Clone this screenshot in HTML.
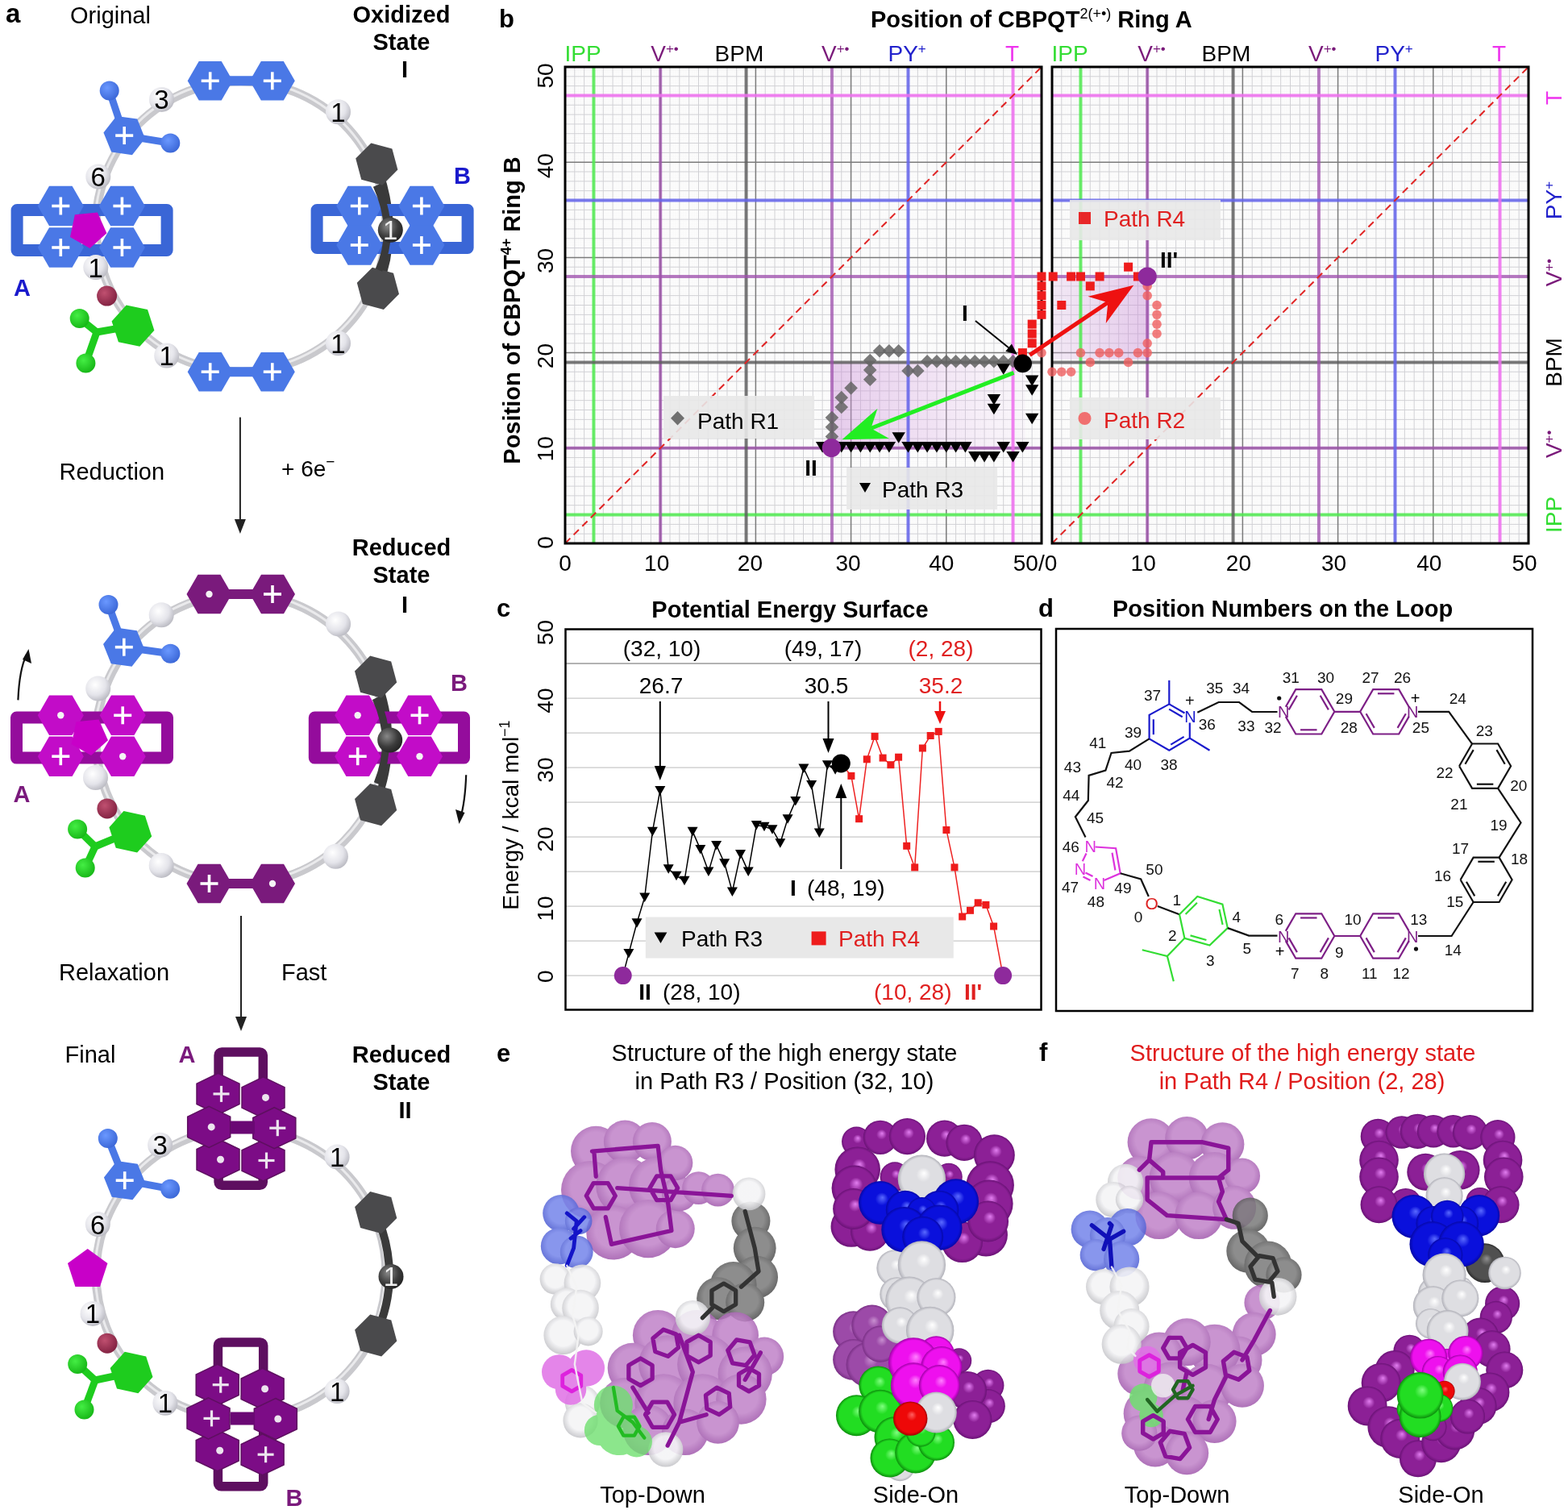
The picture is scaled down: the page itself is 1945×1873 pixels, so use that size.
<!DOCTYPE html>
<html><head><meta charset="utf-8"><title>figure</title>
<style>html,body{margin:0;padding:0;background:#fff;} svg{display:block;} text{font-family:"Liberation Sans", Arial, Helvetica, sans-serif;}</style>
</head><body>
<svg width="1945" height="1873" viewBox="0 0 1945 1873">
<defs>
<linearGradient id="shadeL" x1="0" y1="0" x2="1" y2="0"><stop offset="0" stop-color="#c88ad6" stop-opacity="0.42"/><stop offset="0.5" stop-color="#d8a6e2" stop-opacity="0.3"/><stop offset="1" stop-color="#ecd0f2" stop-opacity="0.12"/></linearGradient>
<linearGradient id="shadeR" x1="1" y1="0" x2="0" y2="0"><stop offset="0" stop-color="#c88ad6" stop-opacity="0.45"/><stop offset="1" stop-color="#dcb8e6" stop-opacity="0.28"/></linearGradient>
<radialGradient id="ballW" cx="0.38" cy="0.35" r="0.7"><stop offset="0" stop-color="#ffffff"/><stop offset="0.6" stop-color="#e4e4ea"/><stop offset="1" stop-color="#b8b8c0"/></radialGradient><radialGradient id="ballD" cx="0.38" cy="0.35" r="0.7"><stop offset="0" stop-color="#888"/><stop offset="0.6" stop-color="#3c3c3c"/><stop offset="1" stop-color="#222"/></radialGradient><radialGradient id="ballB" cx="0.38" cy="0.35" r="0.7"><stop offset="0" stop-color="#6a98ff"/><stop offset="1" stop-color="#3a66d6"/></radialGradient><radialGradient id="ballG" cx="0.38" cy="0.35" r="0.7"><stop offset="0" stop-color="#44ee44"/><stop offset="1" stop-color="#15b515"/></radialGradient><radialGradient id="ballR" cx="0.38" cy="0.35" r="0.7"><stop offset="0" stop-color="#c05070"/><stop offset="1" stop-color="#802040"/></radialGradient><radialGradient id="bP" cx="0.5" cy="0.45" r="0.55"><stop offset="0" stop-color="#c082c8"/><stop offset="0.6" stop-color="#c082c8"/><stop offset="1" stop-color="#a058ac"/></radialGradient><radialGradient id="bW" cx="0.5" cy="0.45" r="0.55"><stop offset="0" stop-color="#f4f4f6"/><stop offset="0.6" stop-color="#f4f4f6"/><stop offset="1" stop-color="#c4c4c8"/></radialGradient><radialGradient id="bD" cx="0.5" cy="0.45" r="0.55"><stop offset="0" stop-color="#7a7a7a"/><stop offset="0.6" stop-color="#7a7a7a"/><stop offset="1" stop-color="#4a4a4a"/></radialGradient><radialGradient id="bB" cx="0.5" cy="0.45" r="0.55"><stop offset="0" stop-color="#7484ea"/><stop offset="0.6" stop-color="#7484ea"/><stop offset="1" stop-color="#4a5ad0"/></radialGradient><radialGradient id="sP" cx="0.5" cy="0.5" fx="0.55" fy="0.38" r="0.5"><stop offset="0" stop-color="#e27ef0"/><stop offset="0.3" stop-color="#8c2096"/><stop offset="0.85" stop-color="#8c2096"/><stop offset="1" stop-color="#6a1276"/></radialGradient><radialGradient id="sPf" cx="0.5" cy="0.5" fx="0.55" fy="0.38" r="0.5"><stop offset="0" stop-color="#c890d0"/><stop offset="0.3" stop-color="#9c4aa8"/><stop offset="0.85" stop-color="#9c4aa8"/><stop offset="1" stop-color="#7a3086"/></radialGradient><radialGradient id="sB" cx="0.5" cy="0.5" fx="0.55" fy="0.38" r="0.5"><stop offset="0" stop-color="#5a6aff"/><stop offset="0.3" stop-color="#0a10dc"/><stop offset="0.85" stop-color="#0a10dc"/><stop offset="1" stop-color="#0608a8"/></radialGradient><radialGradient id="sW" cx="0.5" cy="0.5" fx="0.55" fy="0.38" r="0.5"><stop offset="0" stop-color="#ffffff"/><stop offset="0.3" stop-color="#dedee2"/><stop offset="0.85" stop-color="#dedee2"/><stop offset="1" stop-color="#b0b0b8"/></radialGradient><radialGradient id="sM" cx="0.5" cy="0.5" fx="0.55" fy="0.38" r="0.5"><stop offset="0" stop-color="#ff80ff"/><stop offset="0.3" stop-color="#ee10ee"/><stop offset="0.85" stop-color="#ee10ee"/><stop offset="1" stop-color="#a000a8"/></radialGradient><radialGradient id="sG" cx="0.5" cy="0.5" fx="0.55" fy="0.38" r="0.5"><stop offset="0" stop-color="#80ff80"/><stop offset="0.3" stop-color="#22dd22"/><stop offset="0.85" stop-color="#22dd22"/><stop offset="1" stop-color="#0c8c0c"/></radialGradient><radialGradient id="sR" cx="0.5" cy="0.5" fx="0.55" fy="0.38" r="0.5"><stop offset="0" stop-color="#ff6060"/><stop offset="0.3" stop-color="#ee0808"/><stop offset="0.85" stop-color="#ee0808"/><stop offset="1" stop-color="#a00000"/></radialGradient><radialGradient id="sD" cx="0.5" cy="0.5" fx="0.55" fy="0.38" r="0.5"><stop offset="0" stop-color="#909090"/><stop offset="0.3" stop-color="#505050"/><stop offset="0.85" stop-color="#505050"/><stop offset="1" stop-color="#2a2a2a"/></radialGradient>
</defs>
<rect width="1945" height="1873" fill="#fff"/>
<g id="panel-b">
<path d="M703.36 83.0V674.0 M701.0 671.64H1292.0 M705.73 83.0V674.0 M701.0 669.27H1292.0 M708.09 83.0V674.0 M701.0 666.91H1292.0 M710.46 83.0V674.0 M701.0 664.54H1292.0 M715.18 83.0V674.0 M701.0 659.82H1292.0 M717.55 83.0V674.0 M701.0 657.45H1292.0 M719.91 83.0V674.0 M701.0 655.09H1292.0 M722.28 83.0V674.0 M701.0 652.72H1292.0 M727.00 83.0V674.0 M701.0 648.00H1292.0 M729.37 83.0V674.0 M701.0 645.63H1292.0 M731.73 83.0V674.0 M701.0 643.27H1292.0 M734.10 83.0V674.0 M701.0 640.90H1292.0 M738.82 83.0V674.0 M701.0 636.18H1292.0 M741.19 83.0V674.0 M701.0 633.81H1292.0 M743.55 83.0V674.0 M701.0 631.45H1292.0 M745.92 83.0V674.0 M701.0 629.08H1292.0 M750.64 83.0V674.0 M701.0 624.36H1292.0 M753.01 83.0V674.0 M701.0 621.99H1292.0 M755.37 83.0V674.0 M701.0 619.63H1292.0 M757.74 83.0V674.0 M701.0 617.26H1292.0 M762.46 83.0V674.0 M701.0 612.54H1292.0 M764.83 83.0V674.0 M701.0 610.17H1292.0 M767.19 83.0V674.0 M701.0 607.81H1292.0 M769.56 83.0V674.0 M701.0 605.44H1292.0 M774.28 83.0V674.0 M701.0 600.72H1292.0 M776.65 83.0V674.0 M701.0 598.35H1292.0 M779.01 83.0V674.0 M701.0 595.99H1292.0 M781.38 83.0V674.0 M701.0 593.62H1292.0 M786.10 83.0V674.0 M701.0 588.90H1292.0 M788.47 83.0V674.0 M701.0 586.53H1292.0 M790.83 83.0V674.0 M701.0 584.17H1292.0 M793.20 83.0V674.0 M701.0 581.80H1292.0 M797.92 83.0V674.0 M701.0 577.08H1292.0 M800.29 83.0V674.0 M701.0 574.71H1292.0 M802.65 83.0V674.0 M701.0 572.35H1292.0 M805.02 83.0V674.0 M701.0 569.98H1292.0 M809.74 83.0V674.0 M701.0 565.26H1292.0 M812.11 83.0V674.0 M701.0 562.89H1292.0 M814.47 83.0V674.0 M701.0 560.53H1292.0 M816.84 83.0V674.0 M701.0 558.16H1292.0 M821.56 83.0V674.0 M701.0 553.44H1292.0 M823.93 83.0V674.0 M701.0 551.07H1292.0 M826.29 83.0V674.0 M701.0 548.71H1292.0 M828.66 83.0V674.0 M701.0 546.34H1292.0 M833.38 83.0V674.0 M701.0 541.62H1292.0 M835.75 83.0V674.0 M701.0 539.25H1292.0 M838.11 83.0V674.0 M701.0 536.89H1292.0 M840.48 83.0V674.0 M701.0 534.52H1292.0 M845.20 83.0V674.0 M701.0 529.80H1292.0 M847.57 83.0V674.0 M701.0 527.43H1292.0 M849.93 83.0V674.0 M701.0 525.07H1292.0 M852.30 83.0V674.0 M701.0 522.70H1292.0 M857.02 83.0V674.0 M701.0 517.98H1292.0 M859.39 83.0V674.0 M701.0 515.61H1292.0 M861.75 83.0V674.0 M701.0 513.25H1292.0 M864.12 83.0V674.0 M701.0 510.88H1292.0 M868.84 83.0V674.0 M701.0 506.16H1292.0 M871.21 83.0V674.0 M701.0 503.79H1292.0 M873.57 83.0V674.0 M701.0 501.43H1292.0 M875.94 83.0V674.0 M701.0 499.06H1292.0 M880.66 83.0V674.0 M701.0 494.34H1292.0 M883.03 83.0V674.0 M701.0 491.97H1292.0 M885.39 83.0V674.0 M701.0 489.61H1292.0 M887.76 83.0V674.0 M701.0 487.24H1292.0 M892.48 83.0V674.0 M701.0 482.52H1292.0 M894.85 83.0V674.0 M701.0 480.15H1292.0 M897.21 83.0V674.0 M701.0 477.79H1292.0 M899.58 83.0V674.0 M701.0 475.42H1292.0 M904.30 83.0V674.0 M701.0 470.70H1292.0 M906.67 83.0V674.0 M701.0 468.33H1292.0 M909.03 83.0V674.0 M701.0 465.97H1292.0 M911.40 83.0V674.0 M701.0 463.60H1292.0 M916.12 83.0V674.0 M701.0 458.88H1292.0 M918.49 83.0V674.0 M701.0 456.51H1292.0 M920.85 83.0V674.0 M701.0 454.15H1292.0 M923.22 83.0V674.0 M701.0 451.78H1292.0 M927.94 83.0V674.0 M701.0 447.06H1292.0 M930.31 83.0V674.0 M701.0 444.69H1292.0 M932.67 83.0V674.0 M701.0 442.33H1292.0 M935.04 83.0V674.0 M701.0 439.96H1292.0 M939.76 83.0V674.0 M701.0 435.24H1292.0 M942.13 83.0V674.0 M701.0 432.87H1292.0 M944.49 83.0V674.0 M701.0 430.51H1292.0 M946.86 83.0V674.0 M701.0 428.14H1292.0 M951.58 83.0V674.0 M701.0 423.42H1292.0 M953.95 83.0V674.0 M701.0 421.05H1292.0 M956.31 83.0V674.0 M701.0 418.69H1292.0 M958.68 83.0V674.0 M701.0 416.32H1292.0 M963.40 83.0V674.0 M701.0 411.60H1292.0 M965.77 83.0V674.0 M701.0 409.23H1292.0 M968.13 83.0V674.0 M701.0 406.87H1292.0 M970.50 83.0V674.0 M701.0 404.50H1292.0 M975.22 83.0V674.0 M701.0 399.78H1292.0 M977.59 83.0V674.0 M701.0 397.41H1292.0 M979.95 83.0V674.0 M701.0 395.05H1292.0 M982.32 83.0V674.0 M701.0 392.68H1292.0 M987.04 83.0V674.0 M701.0 387.96H1292.0 M989.41 83.0V674.0 M701.0 385.59H1292.0 M991.77 83.0V674.0 M701.0 383.23H1292.0 M994.14 83.0V674.0 M701.0 380.86H1292.0 M998.86 83.0V674.0 M701.0 376.14H1292.0 M1001.23 83.0V674.0 M701.0 373.77H1292.0 M1003.59 83.0V674.0 M701.0 371.41H1292.0 M1005.96 83.0V674.0 M701.0 369.04H1292.0 M1010.68 83.0V674.0 M701.0 364.32H1292.0 M1013.05 83.0V674.0 M701.0 361.95H1292.0 M1015.41 83.0V674.0 M701.0 359.59H1292.0 M1017.78 83.0V674.0 M701.0 357.22H1292.0 M1022.50 83.0V674.0 M701.0 352.50H1292.0 M1024.87 83.0V674.0 M701.0 350.13H1292.0 M1027.23 83.0V674.0 M701.0 347.77H1292.0 M1029.60 83.0V674.0 M701.0 345.40H1292.0 M1034.32 83.0V674.0 M701.0 340.68H1292.0 M1036.69 83.0V674.0 M701.0 338.31H1292.0 M1039.05 83.0V674.0 M701.0 335.95H1292.0 M1041.42 83.0V674.0 M701.0 333.58H1292.0 M1046.14 83.0V674.0 M701.0 328.86H1292.0 M1048.51 83.0V674.0 M701.0 326.49H1292.0 M1050.87 83.0V674.0 M701.0 324.13H1292.0 M1053.24 83.0V674.0 M701.0 321.76H1292.0 M1057.96 83.0V674.0 M701.0 317.04H1292.0 M1060.33 83.0V674.0 M701.0 314.67H1292.0 M1062.69 83.0V674.0 M701.0 312.31H1292.0 M1065.06 83.0V674.0 M701.0 309.94H1292.0 M1069.78 83.0V674.0 M701.0 305.22H1292.0 M1072.15 83.0V674.0 M701.0 302.85H1292.0 M1074.51 83.0V674.0 M701.0 300.49H1292.0 M1076.88 83.0V674.0 M701.0 298.12H1292.0 M1081.60 83.0V674.0 M701.0 293.40H1292.0 M1083.97 83.0V674.0 M701.0 291.03H1292.0 M1086.33 83.0V674.0 M701.0 288.67H1292.0 M1088.70 83.0V674.0 M701.0 286.30H1292.0 M1093.42 83.0V674.0 M701.0 281.58H1292.0 M1095.79 83.0V674.0 M701.0 279.21H1292.0 M1098.15 83.0V674.0 M701.0 276.85H1292.0 M1100.52 83.0V674.0 M701.0 274.48H1292.0 M1105.24 83.0V674.0 M701.0 269.76H1292.0 M1107.61 83.0V674.0 M701.0 267.39H1292.0 M1109.97 83.0V674.0 M701.0 265.03H1292.0 M1112.34 83.0V674.0 M701.0 262.66H1292.0 M1117.06 83.0V674.0 M701.0 257.94H1292.0 M1119.43 83.0V674.0 M701.0 255.57H1292.0 M1121.79 83.0V674.0 M701.0 253.21H1292.0 M1124.16 83.0V674.0 M701.0 250.84H1292.0 M1128.88 83.0V674.0 M701.0 246.12H1292.0 M1131.25 83.0V674.0 M701.0 243.75H1292.0 M1133.61 83.0V674.0 M701.0 241.39H1292.0 M1135.98 83.0V674.0 M701.0 239.02H1292.0 M1140.70 83.0V674.0 M701.0 234.30H1292.0 M1143.07 83.0V674.0 M701.0 231.93H1292.0 M1145.43 83.0V674.0 M701.0 229.57H1292.0 M1147.80 83.0V674.0 M701.0 227.20H1292.0 M1152.52 83.0V674.0 M701.0 222.48H1292.0 M1154.89 83.0V674.0 M701.0 220.11H1292.0 M1157.25 83.0V674.0 M701.0 217.75H1292.0 M1159.62 83.0V674.0 M701.0 215.38H1292.0 M1164.34 83.0V674.0 M701.0 210.66H1292.0 M1166.71 83.0V674.0 M701.0 208.29H1292.0 M1169.07 83.0V674.0 M701.0 205.93H1292.0 M1171.44 83.0V674.0 M701.0 203.56H1292.0 M1176.16 83.0V674.0 M701.0 198.84H1292.0 M1178.53 83.0V674.0 M701.0 196.47H1292.0 M1180.89 83.0V674.0 M701.0 194.11H1292.0 M1183.26 83.0V674.0 M701.0 191.74H1292.0 M1187.98 83.0V674.0 M701.0 187.02H1292.0 M1190.35 83.0V674.0 M701.0 184.65H1292.0 M1192.71 83.0V674.0 M701.0 182.29H1292.0 M1195.08 83.0V674.0 M701.0 179.92H1292.0 M1199.80 83.0V674.0 M701.0 175.20H1292.0 M1202.17 83.0V674.0 M701.0 172.83H1292.0 M1204.53 83.0V674.0 M701.0 170.47H1292.0 M1206.90 83.0V674.0 M701.0 168.10H1292.0 M1211.62 83.0V674.0 M701.0 163.38H1292.0 M1213.99 83.0V674.0 M701.0 161.01H1292.0 M1216.35 83.0V674.0 M701.0 158.65H1292.0 M1218.72 83.0V674.0 M701.0 156.28H1292.0 M1223.44 83.0V674.0 M701.0 151.56H1292.0 M1225.81 83.0V674.0 M701.0 149.19H1292.0 M1228.17 83.0V674.0 M701.0 146.83H1292.0 M1230.54 83.0V674.0 M701.0 144.46H1292.0 M1235.26 83.0V674.0 M701.0 139.74H1292.0 M1237.63 83.0V674.0 M701.0 137.37H1292.0 M1239.99 83.0V674.0 M701.0 135.01H1292.0 M1242.36 83.0V674.0 M701.0 132.64H1292.0 M1247.08 83.0V674.0 M701.0 127.92H1292.0 M1249.45 83.0V674.0 M701.0 125.55H1292.0 M1251.81 83.0V674.0 M701.0 123.19H1292.0 M1254.18 83.0V674.0 M701.0 120.82H1292.0 M1258.90 83.0V674.0 M701.0 116.10H1292.0 M1261.27 83.0V674.0 M701.0 113.73H1292.0 M1263.63 83.0V674.0 M701.0 111.37H1292.0 M1266.00 83.0V674.0 M701.0 109.00H1292.0 M1270.72 83.0V674.0 M701.0 104.28H1292.0 M1273.09 83.0V674.0 M701.0 101.91H1292.0 M1275.45 83.0V674.0 M701.0 99.55H1292.0 M1277.82 83.0V674.0 M701.0 97.18H1292.0 M1282.54 83.0V674.0 M701.0 92.46H1292.0 M1284.91 83.0V674.0 M701.0 90.09H1292.0 M1287.27 83.0V674.0 M701.0 87.73H1292.0 M1289.64 83.0V674.0 M701.0 85.36H1292.0" stroke="#f8f8f8" stroke-width="0.8" fill="none"/>
<path d="M712.82 83.0V674.0 M701.0 662.18H1292.0 M724.64 83.0V674.0 M701.0 650.36H1292.0 M736.46 83.0V674.0 M701.0 638.54H1292.0 M748.28 83.0V674.0 M701.0 626.72H1292.0 M760.10 83.0V674.0 M701.0 614.90H1292.0 M771.92 83.0V674.0 M701.0 603.08H1292.0 M783.74 83.0V674.0 M701.0 591.26H1292.0 M795.56 83.0V674.0 M701.0 579.44H1292.0 M807.38 83.0V674.0 M701.0 567.62H1292.0 M831.02 83.0V674.0 M701.0 543.98H1292.0 M842.84 83.0V674.0 M701.0 532.16H1292.0 M854.66 83.0V674.0 M701.0 520.34H1292.0 M866.48 83.0V674.0 M701.0 508.52H1292.0 M878.30 83.0V674.0 M701.0 496.70H1292.0 M890.12 83.0V674.0 M701.0 484.88H1292.0 M901.94 83.0V674.0 M701.0 473.06H1292.0 M913.76 83.0V674.0 M701.0 461.24H1292.0 M925.58 83.0V674.0 M701.0 449.42H1292.0 M949.22 83.0V674.0 M701.0 425.78H1292.0 M961.04 83.0V674.0 M701.0 413.96H1292.0 M972.86 83.0V674.0 M701.0 402.14H1292.0 M984.68 83.0V674.0 M701.0 390.32H1292.0 M996.50 83.0V674.0 M701.0 378.50H1292.0 M1008.32 83.0V674.0 M701.0 366.68H1292.0 M1020.14 83.0V674.0 M701.0 354.86H1292.0 M1031.96 83.0V674.0 M701.0 343.04H1292.0 M1043.78 83.0V674.0 M701.0 331.22H1292.0 M1067.42 83.0V674.0 M701.0 307.58H1292.0 M1079.24 83.0V674.0 M701.0 295.76H1292.0 M1091.06 83.0V674.0 M701.0 283.94H1292.0 M1102.88 83.0V674.0 M701.0 272.12H1292.0 M1114.70 83.0V674.0 M701.0 260.30H1292.0 M1126.52 83.0V674.0 M701.0 248.48H1292.0 M1138.34 83.0V674.0 M701.0 236.66H1292.0 M1150.16 83.0V674.0 M701.0 224.84H1292.0 M1161.98 83.0V674.0 M701.0 213.02H1292.0 M1185.62 83.0V674.0 M701.0 189.38H1292.0 M1197.44 83.0V674.0 M701.0 177.56H1292.0 M1209.26 83.0V674.0 M701.0 165.74H1292.0 M1221.08 83.0V674.0 M701.0 153.92H1292.0 M1232.90 83.0V674.0 M701.0 142.10H1292.0 M1244.72 83.0V674.0 M701.0 130.28H1292.0 M1256.54 83.0V674.0 M701.0 118.46H1292.0 M1268.36 83.0V674.0 M701.0 106.64H1292.0 M1280.18 83.0V674.0 M701.0 94.82H1292.0" stroke="#cfcfd3" stroke-width="1" fill="none"/>
<path d="M819.20 83.0V674.0 M701.0 555.80H1292.0 M937.40 83.0V674.0 M701.0 437.60H1292.0 M1055.60 83.0V674.0 M701.0 319.40H1292.0 M1173.80 83.0V674.0 M701.0 201.20H1292.0" stroke="#7a7a7a" stroke-width="1.5" fill="none"/>
<rect x="1032.0" y="449.4" width="239.9" height="106.4" fill="url(#shadeL)"/>
<line x1="736.46" y1="83.00" x2="736.46" y2="674.00" stroke="rgba(80,235,80,0.85)" stroke-width="4" />
<line x1="701.00" y1="638.54" x2="1292.00" y2="638.54" stroke="rgba(80,235,80,0.85)" stroke-width="4" />
<line x1="819.20" y1="83.00" x2="819.20" y2="674.00" stroke="rgba(160,80,175,0.75)" stroke-width="4" />
<line x1="701.00" y1="555.80" x2="1292.00" y2="555.80" stroke="rgba(160,80,175,0.75)" stroke-width="4" />
<line x1="925.58" y1="83.00" x2="925.58" y2="674.00" stroke="rgba(90,90,90,0.8)" stroke-width="4" />
<line x1="701.00" y1="449.42" x2="1292.00" y2="449.42" stroke="rgba(90,90,90,0.8)" stroke-width="4" />
<line x1="1031.96" y1="83.00" x2="1031.96" y2="674.00" stroke="rgba(160,80,175,0.75)" stroke-width="4" />
<line x1="701.00" y1="343.04" x2="1292.00" y2="343.04" stroke="rgba(160,80,175,0.75)" stroke-width="4" />
<line x1="1126.52" y1="83.00" x2="1126.52" y2="674.00" stroke="rgba(100,100,235,0.85)" stroke-width="4" />
<line x1="701.00" y1="248.48" x2="1292.00" y2="248.48" stroke="rgba(100,100,235,0.85)" stroke-width="4" />
<line x1="1256.54" y1="83.00" x2="1256.54" y2="674.00" stroke="rgba(240,110,240,0.85)" stroke-width="4" />
<line x1="701.00" y1="118.46" x2="1292.00" y2="118.46" stroke="rgba(240,110,240,0.85)" stroke-width="4" />
<line x1="701.00" y1="674.00" x2="1292.00" y2="83.00" stroke="#e02424" stroke-width="2" stroke-dasharray="9 6"/>
<rect x="701.0" y="83.0" width="591.00" height="591.00" fill="none" stroke="#000" stroke-width="3"/>
<text x="700.5" y="76.0" font-size="28" text-anchor="start" fill="#33dd33" >IPP</text>
<text x="807.2" y="76.0" font-size="28" text-anchor="start" fill="#7a1a7a" >V<tspan font-size="17" dy="-10">+•</tspan></text>
<text x="886.6" y="76.0" font-size="28" text-anchor="start" fill="#000" >BPM</text>
<text x="1019.0" y="76.0" font-size="28" text-anchor="start" fill="#7a1a7a" >V<tspan font-size="17" dy="-10">+•</tspan></text>
<text x="1101.5" y="76.0" font-size="28" text-anchor="start" fill="#2222cc" >PY<tspan font-size="17" dy="-10">+</tspan></text>
<text x="1247.0" y="76.0" font-size="28" text-anchor="start" fill="#ee33ee" >T</text>
<path d="M1307.36 83.0V674.0 M1305.0 671.64H1896.0 M1309.73 83.0V674.0 M1305.0 669.27H1896.0 M1312.09 83.0V674.0 M1305.0 666.91H1896.0 M1314.46 83.0V674.0 M1305.0 664.54H1896.0 M1319.18 83.0V674.0 M1305.0 659.82H1896.0 M1321.55 83.0V674.0 M1305.0 657.45H1896.0 M1323.91 83.0V674.0 M1305.0 655.09H1896.0 M1326.28 83.0V674.0 M1305.0 652.72H1896.0 M1331.00 83.0V674.0 M1305.0 648.00H1896.0 M1333.37 83.0V674.0 M1305.0 645.63H1896.0 M1335.73 83.0V674.0 M1305.0 643.27H1896.0 M1338.10 83.0V674.0 M1305.0 640.90H1896.0 M1342.82 83.0V674.0 M1305.0 636.18H1896.0 M1345.19 83.0V674.0 M1305.0 633.81H1896.0 M1347.55 83.0V674.0 M1305.0 631.45H1896.0 M1349.92 83.0V674.0 M1305.0 629.08H1896.0 M1354.64 83.0V674.0 M1305.0 624.36H1896.0 M1357.01 83.0V674.0 M1305.0 621.99H1896.0 M1359.37 83.0V674.0 M1305.0 619.63H1896.0 M1361.74 83.0V674.0 M1305.0 617.26H1896.0 M1366.46 83.0V674.0 M1305.0 612.54H1896.0 M1368.83 83.0V674.0 M1305.0 610.17H1896.0 M1371.19 83.0V674.0 M1305.0 607.81H1896.0 M1373.56 83.0V674.0 M1305.0 605.44H1896.0 M1378.28 83.0V674.0 M1305.0 600.72H1896.0 M1380.65 83.0V674.0 M1305.0 598.35H1896.0 M1383.01 83.0V674.0 M1305.0 595.99H1896.0 M1385.38 83.0V674.0 M1305.0 593.62H1896.0 M1390.10 83.0V674.0 M1305.0 588.90H1896.0 M1392.47 83.0V674.0 M1305.0 586.53H1896.0 M1394.83 83.0V674.0 M1305.0 584.17H1896.0 M1397.20 83.0V674.0 M1305.0 581.80H1896.0 M1401.92 83.0V674.0 M1305.0 577.08H1896.0 M1404.29 83.0V674.0 M1305.0 574.71H1896.0 M1406.65 83.0V674.0 M1305.0 572.35H1896.0 M1409.02 83.0V674.0 M1305.0 569.98H1896.0 M1413.74 83.0V674.0 M1305.0 565.26H1896.0 M1416.11 83.0V674.0 M1305.0 562.89H1896.0 M1418.47 83.0V674.0 M1305.0 560.53H1896.0 M1420.84 83.0V674.0 M1305.0 558.16H1896.0 M1425.56 83.0V674.0 M1305.0 553.44H1896.0 M1427.93 83.0V674.0 M1305.0 551.07H1896.0 M1430.29 83.0V674.0 M1305.0 548.71H1896.0 M1432.66 83.0V674.0 M1305.0 546.34H1896.0 M1437.38 83.0V674.0 M1305.0 541.62H1896.0 M1439.75 83.0V674.0 M1305.0 539.25H1896.0 M1442.11 83.0V674.0 M1305.0 536.89H1896.0 M1444.48 83.0V674.0 M1305.0 534.52H1896.0 M1449.20 83.0V674.0 M1305.0 529.80H1896.0 M1451.57 83.0V674.0 M1305.0 527.43H1896.0 M1453.93 83.0V674.0 M1305.0 525.07H1896.0 M1456.30 83.0V674.0 M1305.0 522.70H1896.0 M1461.02 83.0V674.0 M1305.0 517.98H1896.0 M1463.39 83.0V674.0 M1305.0 515.61H1896.0 M1465.75 83.0V674.0 M1305.0 513.25H1896.0 M1468.12 83.0V674.0 M1305.0 510.88H1896.0 M1472.84 83.0V674.0 M1305.0 506.16H1896.0 M1475.21 83.0V674.0 M1305.0 503.79H1896.0 M1477.57 83.0V674.0 M1305.0 501.43H1896.0 M1479.94 83.0V674.0 M1305.0 499.06H1896.0 M1484.66 83.0V674.0 M1305.0 494.34H1896.0 M1487.03 83.0V674.0 M1305.0 491.97H1896.0 M1489.39 83.0V674.0 M1305.0 489.61H1896.0 M1491.76 83.0V674.0 M1305.0 487.24H1896.0 M1496.48 83.0V674.0 M1305.0 482.52H1896.0 M1498.85 83.0V674.0 M1305.0 480.15H1896.0 M1501.21 83.0V674.0 M1305.0 477.79H1896.0 M1503.58 83.0V674.0 M1305.0 475.42H1896.0 M1508.30 83.0V674.0 M1305.0 470.70H1896.0 M1510.67 83.0V674.0 M1305.0 468.33H1896.0 M1513.03 83.0V674.0 M1305.0 465.97H1896.0 M1515.40 83.0V674.0 M1305.0 463.60H1896.0 M1520.12 83.0V674.0 M1305.0 458.88H1896.0 M1522.49 83.0V674.0 M1305.0 456.51H1896.0 M1524.85 83.0V674.0 M1305.0 454.15H1896.0 M1527.22 83.0V674.0 M1305.0 451.78H1896.0 M1531.94 83.0V674.0 M1305.0 447.06H1896.0 M1534.31 83.0V674.0 M1305.0 444.69H1896.0 M1536.67 83.0V674.0 M1305.0 442.33H1896.0 M1539.04 83.0V674.0 M1305.0 439.96H1896.0 M1543.76 83.0V674.0 M1305.0 435.24H1896.0 M1546.13 83.0V674.0 M1305.0 432.87H1896.0 M1548.49 83.0V674.0 M1305.0 430.51H1896.0 M1550.86 83.0V674.0 M1305.0 428.14H1896.0 M1555.58 83.0V674.0 M1305.0 423.42H1896.0 M1557.95 83.0V674.0 M1305.0 421.05H1896.0 M1560.31 83.0V674.0 M1305.0 418.69H1896.0 M1562.68 83.0V674.0 M1305.0 416.32H1896.0 M1567.40 83.0V674.0 M1305.0 411.60H1896.0 M1569.77 83.0V674.0 M1305.0 409.23H1896.0 M1572.13 83.0V674.0 M1305.0 406.87H1896.0 M1574.50 83.0V674.0 M1305.0 404.50H1896.0 M1579.22 83.0V674.0 M1305.0 399.78H1896.0 M1581.59 83.0V674.0 M1305.0 397.41H1896.0 M1583.95 83.0V674.0 M1305.0 395.05H1896.0 M1586.32 83.0V674.0 M1305.0 392.68H1896.0 M1591.04 83.0V674.0 M1305.0 387.96H1896.0 M1593.41 83.0V674.0 M1305.0 385.59H1896.0 M1595.77 83.0V674.0 M1305.0 383.23H1896.0 M1598.14 83.0V674.0 M1305.0 380.86H1896.0 M1602.86 83.0V674.0 M1305.0 376.14H1896.0 M1605.23 83.0V674.0 M1305.0 373.77H1896.0 M1607.59 83.0V674.0 M1305.0 371.41H1896.0 M1609.96 83.0V674.0 M1305.0 369.04H1896.0 M1614.68 83.0V674.0 M1305.0 364.32H1896.0 M1617.05 83.0V674.0 M1305.0 361.95H1896.0 M1619.41 83.0V674.0 M1305.0 359.59H1896.0 M1621.78 83.0V674.0 M1305.0 357.22H1896.0 M1626.50 83.0V674.0 M1305.0 352.50H1896.0 M1628.87 83.0V674.0 M1305.0 350.13H1896.0 M1631.23 83.0V674.0 M1305.0 347.77H1896.0 M1633.60 83.0V674.0 M1305.0 345.40H1896.0 M1638.32 83.0V674.0 M1305.0 340.68H1896.0 M1640.69 83.0V674.0 M1305.0 338.31H1896.0 M1643.05 83.0V674.0 M1305.0 335.95H1896.0 M1645.42 83.0V674.0 M1305.0 333.58H1896.0 M1650.14 83.0V674.0 M1305.0 328.86H1896.0 M1652.51 83.0V674.0 M1305.0 326.49H1896.0 M1654.87 83.0V674.0 M1305.0 324.13H1896.0 M1657.24 83.0V674.0 M1305.0 321.76H1896.0 M1661.96 83.0V674.0 M1305.0 317.04H1896.0 M1664.33 83.0V674.0 M1305.0 314.67H1896.0 M1666.69 83.0V674.0 M1305.0 312.31H1896.0 M1669.06 83.0V674.0 M1305.0 309.94H1896.0 M1673.78 83.0V674.0 M1305.0 305.22H1896.0 M1676.15 83.0V674.0 M1305.0 302.85H1896.0 M1678.51 83.0V674.0 M1305.0 300.49H1896.0 M1680.88 83.0V674.0 M1305.0 298.12H1896.0 M1685.60 83.0V674.0 M1305.0 293.40H1896.0 M1687.97 83.0V674.0 M1305.0 291.03H1896.0 M1690.33 83.0V674.0 M1305.0 288.67H1896.0 M1692.70 83.0V674.0 M1305.0 286.30H1896.0 M1697.42 83.0V674.0 M1305.0 281.58H1896.0 M1699.79 83.0V674.0 M1305.0 279.21H1896.0 M1702.15 83.0V674.0 M1305.0 276.85H1896.0 M1704.52 83.0V674.0 M1305.0 274.48H1896.0 M1709.24 83.0V674.0 M1305.0 269.76H1896.0 M1711.61 83.0V674.0 M1305.0 267.39H1896.0 M1713.97 83.0V674.0 M1305.0 265.03H1896.0 M1716.34 83.0V674.0 M1305.0 262.66H1896.0 M1721.06 83.0V674.0 M1305.0 257.94H1896.0 M1723.43 83.0V674.0 M1305.0 255.57H1896.0 M1725.79 83.0V674.0 M1305.0 253.21H1896.0 M1728.16 83.0V674.0 M1305.0 250.84H1896.0 M1732.88 83.0V674.0 M1305.0 246.12H1896.0 M1735.25 83.0V674.0 M1305.0 243.75H1896.0 M1737.61 83.0V674.0 M1305.0 241.39H1896.0 M1739.98 83.0V674.0 M1305.0 239.02H1896.0 M1744.70 83.0V674.0 M1305.0 234.30H1896.0 M1747.07 83.0V674.0 M1305.0 231.93H1896.0 M1749.43 83.0V674.0 M1305.0 229.57H1896.0 M1751.80 83.0V674.0 M1305.0 227.20H1896.0 M1756.52 83.0V674.0 M1305.0 222.48H1896.0 M1758.89 83.0V674.0 M1305.0 220.11H1896.0 M1761.25 83.0V674.0 M1305.0 217.75H1896.0 M1763.62 83.0V674.0 M1305.0 215.38H1896.0 M1768.34 83.0V674.0 M1305.0 210.66H1896.0 M1770.71 83.0V674.0 M1305.0 208.29H1896.0 M1773.07 83.0V674.0 M1305.0 205.93H1896.0 M1775.44 83.0V674.0 M1305.0 203.56H1896.0 M1780.16 83.0V674.0 M1305.0 198.84H1896.0 M1782.53 83.0V674.0 M1305.0 196.47H1896.0 M1784.89 83.0V674.0 M1305.0 194.11H1896.0 M1787.26 83.0V674.0 M1305.0 191.74H1896.0 M1791.98 83.0V674.0 M1305.0 187.02H1896.0 M1794.35 83.0V674.0 M1305.0 184.65H1896.0 M1796.71 83.0V674.0 M1305.0 182.29H1896.0 M1799.08 83.0V674.0 M1305.0 179.92H1896.0 M1803.80 83.0V674.0 M1305.0 175.20H1896.0 M1806.17 83.0V674.0 M1305.0 172.83H1896.0 M1808.53 83.0V674.0 M1305.0 170.47H1896.0 M1810.90 83.0V674.0 M1305.0 168.10H1896.0 M1815.62 83.0V674.0 M1305.0 163.38H1896.0 M1817.99 83.0V674.0 M1305.0 161.01H1896.0 M1820.35 83.0V674.0 M1305.0 158.65H1896.0 M1822.72 83.0V674.0 M1305.0 156.28H1896.0 M1827.44 83.0V674.0 M1305.0 151.56H1896.0 M1829.81 83.0V674.0 M1305.0 149.19H1896.0 M1832.17 83.0V674.0 M1305.0 146.83H1896.0 M1834.54 83.0V674.0 M1305.0 144.46H1896.0 M1839.26 83.0V674.0 M1305.0 139.74H1896.0 M1841.63 83.0V674.0 M1305.0 137.37H1896.0 M1843.99 83.0V674.0 M1305.0 135.01H1896.0 M1846.36 83.0V674.0 M1305.0 132.64H1896.0 M1851.08 83.0V674.0 M1305.0 127.92H1896.0 M1853.45 83.0V674.0 M1305.0 125.55H1896.0 M1855.81 83.0V674.0 M1305.0 123.19H1896.0 M1858.18 83.0V674.0 M1305.0 120.82H1896.0 M1862.90 83.0V674.0 M1305.0 116.10H1896.0 M1865.27 83.0V674.0 M1305.0 113.73H1896.0 M1867.63 83.0V674.0 M1305.0 111.37H1896.0 M1870.00 83.0V674.0 M1305.0 109.00H1896.0 M1874.72 83.0V674.0 M1305.0 104.28H1896.0 M1877.09 83.0V674.0 M1305.0 101.91H1896.0 M1879.45 83.0V674.0 M1305.0 99.55H1896.0 M1881.82 83.0V674.0 M1305.0 97.18H1896.0 M1886.54 83.0V674.0 M1305.0 92.46H1896.0 M1888.91 83.0V674.0 M1305.0 90.09H1896.0 M1891.27 83.0V674.0 M1305.0 87.73H1896.0 M1893.64 83.0V674.0 M1305.0 85.36H1896.0" stroke="#f8f8f8" stroke-width="0.8" fill="none"/>
<path d="M1316.82 83.0V674.0 M1305.0 662.18H1896.0 M1328.64 83.0V674.0 M1305.0 650.36H1896.0 M1340.46 83.0V674.0 M1305.0 638.54H1896.0 M1352.28 83.0V674.0 M1305.0 626.72H1896.0 M1364.10 83.0V674.0 M1305.0 614.90H1896.0 M1375.92 83.0V674.0 M1305.0 603.08H1896.0 M1387.74 83.0V674.0 M1305.0 591.26H1896.0 M1399.56 83.0V674.0 M1305.0 579.44H1896.0 M1411.38 83.0V674.0 M1305.0 567.62H1896.0 M1435.02 83.0V674.0 M1305.0 543.98H1896.0 M1446.84 83.0V674.0 M1305.0 532.16H1896.0 M1458.66 83.0V674.0 M1305.0 520.34H1896.0 M1470.48 83.0V674.0 M1305.0 508.52H1896.0 M1482.30 83.0V674.0 M1305.0 496.70H1896.0 M1494.12 83.0V674.0 M1305.0 484.88H1896.0 M1505.94 83.0V674.0 M1305.0 473.06H1896.0 M1517.76 83.0V674.0 M1305.0 461.24H1896.0 M1529.58 83.0V674.0 M1305.0 449.42H1896.0 M1553.22 83.0V674.0 M1305.0 425.78H1896.0 M1565.04 83.0V674.0 M1305.0 413.96H1896.0 M1576.86 83.0V674.0 M1305.0 402.14H1896.0 M1588.68 83.0V674.0 M1305.0 390.32H1896.0 M1600.50 83.0V674.0 M1305.0 378.50H1896.0 M1612.32 83.0V674.0 M1305.0 366.68H1896.0 M1624.14 83.0V674.0 M1305.0 354.86H1896.0 M1635.96 83.0V674.0 M1305.0 343.04H1896.0 M1647.78 83.0V674.0 M1305.0 331.22H1896.0 M1671.42 83.0V674.0 M1305.0 307.58H1896.0 M1683.24 83.0V674.0 M1305.0 295.76H1896.0 M1695.06 83.0V674.0 M1305.0 283.94H1896.0 M1706.88 83.0V674.0 M1305.0 272.12H1896.0 M1718.70 83.0V674.0 M1305.0 260.30H1896.0 M1730.52 83.0V674.0 M1305.0 248.48H1896.0 M1742.34 83.0V674.0 M1305.0 236.66H1896.0 M1754.16 83.0V674.0 M1305.0 224.84H1896.0 M1765.98 83.0V674.0 M1305.0 213.02H1896.0 M1789.62 83.0V674.0 M1305.0 189.38H1896.0 M1801.44 83.0V674.0 M1305.0 177.56H1896.0 M1813.26 83.0V674.0 M1305.0 165.74H1896.0 M1825.08 83.0V674.0 M1305.0 153.92H1896.0 M1836.90 83.0V674.0 M1305.0 142.10H1896.0 M1848.72 83.0V674.0 M1305.0 130.28H1896.0 M1860.54 83.0V674.0 M1305.0 118.46H1896.0 M1872.36 83.0V674.0 M1305.0 106.64H1896.0 M1884.18 83.0V674.0 M1305.0 94.82H1896.0" stroke="#cfcfd3" stroke-width="1" fill="none"/>
<path d="M1423.20 83.0V674.0 M1305.0 555.80H1896.0 M1541.40 83.0V674.0 M1305.0 437.60H1896.0 M1659.60 83.0V674.0 M1305.0 319.40H1896.0 M1777.80 83.0V674.0 M1305.0 201.20H1896.0" stroke="#7a7a7a" stroke-width="1.5" fill="none"/>
<rect x="1305.0" y="343.0" width="120.6" height="102.8" fill="url(#shadeR)"/>
<line x1="1340.46" y1="83.00" x2="1340.46" y2="674.00" stroke="rgba(80,235,80,0.85)" stroke-width="4" />
<line x1="1305.00" y1="638.54" x2="1896.00" y2="638.54" stroke="rgba(80,235,80,0.85)" stroke-width="4" />
<line x1="1423.20" y1="83.00" x2="1423.20" y2="674.00" stroke="rgba(160,80,175,0.75)" stroke-width="4" />
<line x1="1305.00" y1="555.80" x2="1896.00" y2="555.80" stroke="rgba(160,80,175,0.75)" stroke-width="4" />
<line x1="1529.58" y1="83.00" x2="1529.58" y2="674.00" stroke="rgba(90,90,90,0.8)" stroke-width="4" />
<line x1="1305.00" y1="449.42" x2="1896.00" y2="449.42" stroke="rgba(90,90,90,0.8)" stroke-width="4" />
<line x1="1635.96" y1="83.00" x2="1635.96" y2="674.00" stroke="rgba(160,80,175,0.75)" stroke-width="4" />
<line x1="1305.00" y1="343.04" x2="1896.00" y2="343.04" stroke="rgba(160,80,175,0.75)" stroke-width="4" />
<line x1="1730.52" y1="83.00" x2="1730.52" y2="674.00" stroke="rgba(100,100,235,0.85)" stroke-width="4" />
<line x1="1305.00" y1="248.48" x2="1896.00" y2="248.48" stroke="rgba(100,100,235,0.85)" stroke-width="4" />
<line x1="1860.54" y1="83.00" x2="1860.54" y2="674.00" stroke="rgba(240,110,240,0.85)" stroke-width="4" />
<line x1="1305.00" y1="118.46" x2="1896.00" y2="118.46" stroke="rgba(240,110,240,0.85)" stroke-width="4" />
<line x1="1305.00" y1="674.00" x2="1896.00" y2="83.00" stroke="#e02424" stroke-width="2" stroke-dasharray="9 6"/>
<rect x="1305.0" y="83.0" width="591.00" height="591.00" fill="none" stroke="#000" stroke-width="3"/>
<text x="1304.5" y="76.0" font-size="28" text-anchor="start" fill="#33dd33" >IPP</text>
<text x="1411.2" y="76.0" font-size="28" text-anchor="start" fill="#7a1a7a" >V<tspan font-size="17" dy="-10">+•</tspan></text>
<text x="1490.6" y="76.0" font-size="28" text-anchor="start" fill="#000" >BPM</text>
<text x="1623.0" y="76.0" font-size="28" text-anchor="start" fill="#7a1a7a" >V<tspan font-size="17" dy="-10">+•</tspan></text>
<text x="1705.5" y="76.0" font-size="28" text-anchor="start" fill="#2222cc" >PY<tspan font-size="17" dy="-10">+</tspan></text>
<text x="1851.0" y="76.0" font-size="28" text-anchor="start" fill="#ee33ee" >T</text>
<text x="701.0" y="708.0" font-size="28" text-anchor="middle" fill="#000" >0</text>
<text x="814.7" y="708.0" font-size="28" text-anchor="middle" fill="#000" >10</text>
<text x="930.4" y="708.0" font-size="28" text-anchor="middle" fill="#000" >20</text>
<text x="1052.1" y="708.0" font-size="28" text-anchor="middle" fill="#000" >30</text>
<text x="1167.8" y="708.0" font-size="28" text-anchor="middle" fill="#000" >40</text>
<text x="1284.0" y="708.0" font-size="28" text-anchor="middle" fill="#000" >50/0</text>
<text x="1418.2" y="708.0" font-size="28" text-anchor="middle" fill="#000" >10</text>
<text x="1536.4" y="708.0" font-size="28" text-anchor="middle" fill="#000" >20</text>
<text x="1654.6" y="708.0" font-size="28" text-anchor="middle" fill="#000" >30</text>
<text x="1772.8" y="708.0" font-size="28" text-anchor="middle" fill="#000" >40</text>
<text x="1891.0" y="708.0" font-size="28" text-anchor="middle" fill="#000" >50</text>
<text transform="translate(686,673.0) rotate(-90)" font-size="28" text-anchor="middle">0</text>
<text transform="translate(686,556.8) rotate(-90)" font-size="28" text-anchor="middle">10</text>
<text transform="translate(686,441.6) rotate(-90)" font-size="28" text-anchor="middle">20</text>
<text transform="translate(686,323.4) rotate(-90)" font-size="28" text-anchor="middle">30</text>
<text transform="translate(686,205.7) rotate(-90)" font-size="28" text-anchor="middle">40</text>
<text transform="translate(686,94.0) rotate(-90)" font-size="28" text-anchor="middle">50</text>
<text transform="translate(1937,638.5) rotate(-90)" font-size="28" text-anchor="middle" fill="#33dd33">IPP</text>
<text transform="translate(1937,550.8) rotate(-90)" font-size="28" text-anchor="middle" fill="#7a1a7a">V<tspan font-size="17" dy="-10">+•</tspan></text>
<text transform="translate(1937,449.4) rotate(-90)" font-size="28" text-anchor="middle" fill="#000">BPM</text>
<text transform="translate(1937,338.0) rotate(-90)" font-size="28" text-anchor="middle" fill="#7a1a7a">V<tspan font-size="17" dy="-10">+•</tspan></text>
<text transform="translate(1937,248.5) rotate(-90)" font-size="28" text-anchor="middle" fill="#2222cc">PY<tspan font-size="17" dy="-10">+</tspan></text>
<text transform="translate(1937,121.5) rotate(-90)" font-size="28" text-anchor="middle" fill="#ee33ee">T</text>
<text transform="translate(645,385) rotate(-90)" font-size="29" font-weight="bold" text-anchor="middle">Position of CBPQT<tspan font-size="18" dy="-11">4+</tspan><tspan dy="11"> Ring B</tspan></text>
<text x="1080" y="34" font-size="29" font-weight="bold">Position of CBPQT<tspan font-size="18" dy="-11" font-weight="normal">2(+•)</tspan><tspan dy="11"> Ring A</tspan></text>
<text x="619.0" y="34.0" font-size="31" text-anchor="start" fill="#000" font-weight="bold" >b</text>
<rect x="823" y="491" width="187" height="53" fill="rgba(232,232,232,0.9)"/>
<rect x="1050" y="580" width="187" height="52" fill="rgba(232,232,232,0.9)"/>
<rect x="1327" y="248" width="187" height="50" fill="rgba(232,232,232,0.9)"/>
<rect x="1327" y="493" width="187" height="52" fill="rgba(232,232,232,0.9)"/>
<polygon points="840.50,510.00 849.00,518.80 840.50,527.50 832.00,518.80" fill="#707070" />
<text x="865.0" y="532.0" font-size="28" text-anchor="start" fill="#000" >Path R1</text>
<polygon points="1066.00,599.00 1080.00,599.00 1073.00,611.00" fill="#000" />
<text x="1094.0" y="617.0" font-size="28" text-anchor="start" fill="#000" >Path R3</text>
<rect x="1338" y="263" width="15" height="15" fill="#e82828"/>
<text x="1369.0" y="281.0" font-size="28" text-anchor="start" fill="#e02020" >Path R4</text>
<circle cx="1345.50" cy="519.00" r="8.00" fill="#f07070" />
<text x="1369.0" y="531.0" font-size="28" text-anchor="start" fill="#e02020" >Path R2</text>
<polygon points="1150.16,439.94 1158.46,448.24 1150.16,456.54 1141.86,448.24" fill="rgba(100,100,100,0.85)" />
<polygon points="1161.98,439.94 1170.28,448.24 1161.98,456.54 1153.68,448.24" fill="rgba(100,100,100,0.85)" />
<polygon points="1173.80,439.94 1182.10,448.24 1173.80,456.54 1165.50,448.24" fill="rgba(100,100,100,0.85)" />
<polygon points="1185.62,439.94 1193.92,448.24 1185.62,456.54 1177.32,448.24" fill="rgba(100,100,100,0.85)" />
<polygon points="1197.44,439.94 1205.74,448.24 1197.44,456.54 1189.14,448.24" fill="rgba(100,100,100,0.85)" />
<polygon points="1209.26,439.94 1217.56,448.24 1209.26,456.54 1200.96,448.24" fill="rgba(100,100,100,0.85)" />
<polygon points="1221.08,439.94 1229.38,448.24 1221.08,456.54 1212.78,448.24" fill="rgba(100,100,100,0.85)" />
<polygon points="1232.90,439.94 1241.20,448.24 1232.90,456.54 1224.60,448.24" fill="rgba(100,100,100,0.85)" />
<polygon points="1244.72,439.94 1253.02,448.24 1244.72,456.54 1236.42,448.24" fill="rgba(100,100,100,0.85)" />
<polygon points="1256.54,439.94 1264.84,448.24 1256.54,456.54 1248.24,448.24" fill="rgba(100,100,100,0.85)" />
<polygon points="1138.34,451.76 1146.64,460.06 1138.34,468.36 1130.04,460.06" fill="rgba(100,100,100,0.85)" />
<polygon points="1126.52,451.76 1134.82,460.06 1126.52,468.36 1118.22,460.06" fill="rgba(100,100,100,0.85)" />
<polygon points="1114.70,426.94 1123.00,435.24 1114.70,443.54 1106.40,435.24" fill="rgba(100,100,100,0.85)" />
<polygon points="1102.88,426.94 1111.18,435.24 1102.88,443.54 1094.58,435.24" fill="rgba(100,100,100,0.85)" />
<polygon points="1091.06,426.94 1099.36,435.24 1091.06,443.54 1082.76,435.24" fill="rgba(100,100,100,0.85)" />
<polygon points="1079.24,438.76 1087.54,447.06 1079.24,455.36 1070.94,447.06" fill="rgba(100,100,100,0.85)" />
<polygon points="1079.24,450.58 1087.54,458.88 1079.24,467.18 1070.94,458.88" fill="rgba(100,100,100,0.85)" />
<polygon points="1079.24,462.40 1087.54,470.70 1079.24,479.00 1070.94,470.70" fill="rgba(100,100,100,0.85)" />
<polygon points="1055.60,473.03 1063.90,481.33 1055.60,489.63 1047.30,481.33" fill="rgba(100,100,100,0.85)" />
<polygon points="1043.78,484.85 1052.08,493.15 1043.78,501.45 1035.48,493.15" fill="rgba(100,100,100,0.85)" />
<polygon points="1043.78,496.67 1052.08,504.97 1043.78,513.27 1035.48,504.97" fill="rgba(100,100,100,0.85)" />
<polygon points="1031.96,509.68 1040.26,517.98 1031.96,526.28 1023.66,517.98" fill="rgba(100,100,100,0.85)" />
<polygon points="1031.96,521.50 1040.26,529.80 1031.96,538.10 1023.66,529.80" fill="rgba(100,100,100,0.85)" />
<polygon points="1031.96,533.32 1040.26,541.62 1031.96,549.92 1023.66,541.62" fill="rgba(100,100,100,0.85)" />
<polygon points="1011.94,548.12 1028.34,548.12 1020.14,561.62" fill="#000" />
<polygon points="1106.50,536.30 1122.90,536.30 1114.70,549.80" fill="#000" />
<polygon points="1201.06,559.94 1217.46,559.94 1209.26,573.44" fill="#000" />
<polygon points="1212.88,559.94 1229.28,559.94 1221.08,573.44" fill="#000" />
<polygon points="1224.70,559.94 1241.10,559.94 1232.90,573.44" fill="#000" />
<polygon points="1236.52,548.12 1252.92,548.12 1244.72,561.62" fill="#000" />
<polygon points="1248.34,559.94 1264.74,559.94 1256.54,573.44" fill="#000" />
<polygon points="1260.16,548.12 1276.56,548.12 1268.36,561.62" fill="#000" />
<polygon points="1224.70,489.02 1241.10,489.02 1232.90,502.52" fill="#000" />
<polygon points="1224.70,500.84 1241.10,500.84 1232.90,514.34" fill="#000" />
<polygon points="1271.98,465.38 1288.38,465.38 1280.18,478.88" fill="#000" />
<polygon points="1271.98,477.20 1288.38,477.20 1280.18,490.70" fill="#000" />
<polygon points="1271.98,512.66 1288.38,512.66 1280.18,526.16" fill="#000" />
<polygon points="1236.52,451.19 1252.92,451.19 1244.72,464.69" fill="#000" />
<polygon points="1035.58,548.12 1051.98,548.12 1043.78,561.62" fill="#000" />
<polygon points="1047.40,548.12 1063.80,548.12 1055.60,561.62" fill="#000" />
<polygon points="1059.22,548.12 1075.62,548.12 1067.42,561.62" fill="#000" />
<polygon points="1071.04,548.12 1087.44,548.12 1079.24,561.62" fill="#000" />
<polygon points="1082.86,548.12 1099.26,548.12 1091.06,561.62" fill="#000" />
<polygon points="1094.68,548.12 1111.08,548.12 1102.88,561.62" fill="#000" />
<polygon points="1118.32,548.12 1134.72,548.12 1126.52,561.62" fill="#000" />
<polygon points="1130.14,548.12 1146.54,548.12 1138.34,561.62" fill="#000" />
<polygon points="1141.96,548.12 1158.36,548.12 1150.16,561.62" fill="#000" />
<polygon points="1153.78,548.12 1170.18,548.12 1161.98,561.62" fill="#000" />
<polygon points="1165.60,548.12 1182.00,548.12 1173.80,561.62" fill="#000" />
<polygon points="1177.42,548.12 1193.82,548.12 1185.62,561.62" fill="#000" />
<polygon points="1189.24,548.12 1205.64,548.12 1197.44,561.62" fill="#000" />
<circle cx="1305.00" cy="461.24" r="5.80" fill="rgba(240,95,95,0.8)" />
<circle cx="1316.82" cy="461.24" r="5.80" fill="rgba(240,95,95,0.8)" />
<circle cx="1328.64" cy="461.24" r="5.80" fill="rgba(240,95,95,0.8)" />
<circle cx="1352.28" cy="449.42" r="5.80" fill="rgba(240,95,95,0.8)" />
<circle cx="1399.56" cy="449.42" r="5.80" fill="rgba(240,95,95,0.8)" />
<circle cx="1340.46" cy="437.60" r="5.80" fill="rgba(240,95,95,0.8)" />
<circle cx="1364.10" cy="437.60" r="5.80" fill="rgba(240,95,95,0.8)" />
<circle cx="1375.92" cy="437.60" r="5.80" fill="rgba(240,95,95,0.8)" />
<circle cx="1387.74" cy="437.60" r="5.80" fill="rgba(240,95,95,0.8)" />
<circle cx="1411.38" cy="437.60" r="5.80" fill="rgba(240,95,95,0.8)" />
<circle cx="1423.20" cy="437.60" r="5.80" fill="rgba(240,95,95,0.8)" />
<circle cx="1423.20" cy="425.78" r="5.80" fill="rgba(240,95,95,0.8)" />
<circle cx="1435.02" cy="413.96" r="5.80" fill="rgba(240,95,95,0.8)" />
<circle cx="1435.02" cy="402.14" r="5.80" fill="rgba(240,95,95,0.8)" />
<circle cx="1435.02" cy="390.32" r="5.80" fill="rgba(240,95,95,0.8)" />
<circle cx="1435.02" cy="378.50" r="5.80" fill="rgba(240,95,95,0.8)" />
<circle cx="1423.20" cy="366.68" r="5.80" fill="rgba(240,95,95,0.8)" />
<circle cx="1423.20" cy="354.86" r="5.80" fill="rgba(240,95,95,0.8)" />
<circle cx="1292.00" cy="437.60" r="5.80" fill="rgba(240,95,95,0.8)" />
<rect x="1262.9" y="432.1" width="11" height="11" fill="#ee1c1c"/>
<rect x="1274.7" y="420.3" width="11" height="11" fill="#ee1c1c"/>
<rect x="1274.7" y="408.5" width="11" height="11" fill="#ee1c1c"/>
<rect x="1274.7" y="396.6" width="11" height="11" fill="#ee1c1c"/>
<rect x="1286.5" y="384.8" width="11" height="11" fill="#ee1c1c"/>
<rect x="1286.5" y="373.0" width="11" height="11" fill="#ee1c1c"/>
<rect x="1286.5" y="361.2" width="11" height="11" fill="#ee1c1c"/>
<rect x="1286.5" y="349.4" width="11" height="11" fill="#ee1c1c"/>
<rect x="1286.5" y="337.5" width="11" height="11" fill="#ee1c1c"/>
<rect x="1300.7" y="337.5" width="11" height="11" fill="#ee1c1c"/>
<rect x="1323.1" y="337.5" width="11" height="11" fill="#ee1c1c"/>
<rect x="1335.0" y="337.5" width="11" height="11" fill="#ee1c1c"/>
<rect x="1358.6" y="337.5" width="11" height="11" fill="#ee1c1c"/>
<rect x="1405.9" y="337.5" width="11" height="11" fill="#ee1c1c"/>
<rect x="1346.8" y="349.4" width="11" height="11" fill="#ee1c1c"/>
<rect x="1311.3" y="373.0" width="11" height="11" fill="#ee1c1c"/>
<rect x="1394.1" y="325.7" width="11" height="11" fill="#ee1c1c"/>
<line x1="1257.50" y1="462.40" x2="1080.38" y2="531.25" stroke="#22ee22" stroke-width="5" />
<polygon points="1044.50,545.20 1088.52,506.63 1080.38,531.25 1103.01,543.91" fill="#22ee22" />
<line x1="1277.30" y1="440.30" x2="1374.33" y2="375.16" stroke="#ee1111" stroke-width="5" />
<polygon points="1406.30,353.70 1371.78,400.96 1374.33,375.16 1349.49,367.75" fill="#ee1111" />
<line x1="1210.00" y1="398.00" x2="1251.11" y2="431.20" stroke="#000" stroke-width="2" />
<polygon points="1262.00,440.00 1247.34,435.87 1254.88,426.54" fill="#000" />
<circle cx="1268.70" cy="450.90" r="11.30" fill="#000" />
<circle cx="1031.40" cy="555.50" r="11.60" fill="#8e2a9c" />
<circle cx="1423.20" cy="343.04" r="11.60" fill="#8e2a9c" />
<text x="1006.0" y="590.0" font-size="28" text-anchor="middle" fill="#000" font-weight="bold" >II</text>
<text x="1197.0" y="398.0" font-size="28" text-anchor="middle" fill="#000" font-weight="bold" >I</text>
<text x="1450.0" y="332.0" font-size="28" text-anchor="middle" fill="#000" font-weight="bold" >II'</text>
</g>
<g id="panel-c">
<line x1="701.50" y1="1167.10" x2="1291.50" y2="1167.10" stroke="#c8c8c8" stroke-width="1.2" />
<line x1="701.50" y1="1124.10" x2="1291.50" y2="1124.10" stroke="#c8c8c8" stroke-width="1.2" />
<line x1="701.50" y1="1081.10" x2="1291.50" y2="1081.10" stroke="#c8c8c8" stroke-width="1.2" />
<line x1="701.50" y1="1038.10" x2="1291.50" y2="1038.10" stroke="#c8c8c8" stroke-width="1.2" />
<line x1="701.50" y1="995.10" x2="1291.50" y2="995.10" stroke="#c8c8c8" stroke-width="1.2" />
<line x1="701.50" y1="952.10" x2="1291.50" y2="952.10" stroke="#c8c8c8" stroke-width="1.2" />
<line x1="701.50" y1="909.10" x2="1291.50" y2="909.10" stroke="#c8c8c8" stroke-width="1.2" />
<line x1="701.50" y1="866.10" x2="1291.50" y2="866.10" stroke="#c8c8c8" stroke-width="1.2" />
<line x1="701.50" y1="823.10" x2="1291.50" y2="823.10" stroke="#999" stroke-width="1.5" />
<line x1="701.50" y1="1210.10" x2="1291.50" y2="1210.10" stroke="#c8c8c8" stroke-width="1.2" />
<rect x="800.8" y="1137.5" width="382" height="51" fill="#e8e8e8"/>
<rect x="701.5" y="780.5" width="590.0" height="472.0" fill="none" stroke="#000" stroke-width="2.5"/>
<text x="980.0" y="766.0" font-size="29" text-anchor="middle" fill="#000" font-weight="bold" >Potential Energy Surface</text>
<text x="616.0" y="765.0" font-size="31" text-anchor="start" fill="#000" font-weight="bold" >c</text>
<text transform="translate(686,1211.1) rotate(-90)" font-size="28" text-anchor="middle">0</text>
<text transform="translate(686,1127.1) rotate(-90)" font-size="28" text-anchor="middle">10</text>
<text transform="translate(686,1041.1) rotate(-90)" font-size="28" text-anchor="middle">20</text>
<text transform="translate(686,955.1) rotate(-90)" font-size="28" text-anchor="middle">30</text>
<text transform="translate(686,869.1) rotate(-90)" font-size="28" text-anchor="middle">40</text>
<text transform="translate(686,784.6) rotate(-90)" font-size="28" text-anchor="middle">50</text>
<text transform="translate(643,1011) rotate(-90)" font-size="28" text-anchor="middle">Energy / kcal mol<tspan font-size="18" dy="-11">−1</tspan></text>
<polyline points="772.7,1210.1 779.9,1182.6 790.0,1144.7 799.7,1112.9 809.4,1031.2 818.8,980.5 829.2,1077.7 839.0,1086.3 849.0,1092.3 859.1,1031.2 868.8,1053.6 878.9,1081.1 888.6,1048.4 898.7,1070.8 908.4,1106.0 918.5,1059.6 928.2,1081.1 938.3,1023.5 948.0,1025.2 958.0,1028.6 967.8,1045.8 977.1,1015.7 986.8,993.4 996.9,953.0 1006.6,973.6 1016.3,1032.9 1026.4,948.7 1036.1,954.7 1043.3,946.9" fill="none" stroke="#000" stroke-width="1.5"/>
<polyline points="1043.3,946.9 1055.9,962.4 1065.6,1015.7 1075.3,941.8 1085.1,913.4 1095.1,940.1 1104.9,948.7 1114.6,939.2 1124.7,1049.3 1134.7,1075.9 1144.4,928.0 1154.2,912.5 1164.2,907.4 1173.9,1029.5 1184.0,1075.9 1193.7,1137.0 1203.5,1129.3 1213.2,1119.8 1222.9,1122.4 1232.6,1149.0 1244.1,1210.1" fill="none" stroke="#ee2222" stroke-width="1.5"/>
<polygon points="773.40,1177.08 786.40,1177.08 779.90,1188.58" fill="#000" />
<polygon points="783.50,1139.24 796.50,1139.24 790.00,1150.74" fill="#000" />
<polygon points="793.20,1107.42 806.20,1107.42 799.70,1118.92" fill="#000" />
<polygon points="802.90,1025.72 815.90,1025.72 809.40,1037.22" fill="#000" />
<polygon points="812.30,974.98 825.30,974.98 818.80,986.48" fill="#000" />
<polygon points="822.70,1072.16 835.70,1072.16 829.20,1083.66" fill="#000" />
<polygon points="832.50,1080.76 845.50,1080.76 839.00,1092.26" fill="#000" />
<polygon points="842.50,1086.78 855.50,1086.78 849.00,1098.28" fill="#000" />
<polygon points="852.60,1025.72 865.60,1025.72 859.10,1037.22" fill="#000" />
<polygon points="862.30,1048.08 875.30,1048.08 868.80,1059.58" fill="#000" />
<polygon points="872.40,1075.60 885.40,1075.60 878.90,1087.10" fill="#000" />
<polygon points="882.10,1042.92 895.10,1042.92 888.60,1054.42" fill="#000" />
<polygon points="892.20,1065.28 905.20,1065.28 898.70,1076.78" fill="#000" />
<polygon points="901.90,1100.54 914.90,1100.54 908.40,1112.04" fill="#000" />
<polygon points="912.00,1054.10 925.00,1054.10 918.50,1065.60" fill="#000" />
<polygon points="921.70,1075.60 934.70,1075.60 928.20,1087.10" fill="#000" />
<polygon points="931.80,1017.98 944.80,1017.98 938.30,1029.48" fill="#000" />
<polygon points="941.50,1019.70 954.50,1019.70 948.00,1031.20" fill="#000" />
<polygon points="951.50,1023.14 964.50,1023.14 958.00,1034.64" fill="#000" />
<polygon points="961.30,1040.34 974.30,1040.34 967.80,1051.84" fill="#000" />
<polygon points="970.60,1010.24 983.60,1010.24 977.10,1021.74" fill="#000" />
<polygon points="980.30,987.88 993.30,987.88 986.80,999.38" fill="#000" />
<polygon points="990.40,947.46 1003.40,947.46 996.90,958.96" fill="#000" />
<polygon points="1000.10,968.10 1013.10,968.10 1006.60,979.60" fill="#000" />
<polygon points="1009.80,1027.44 1022.80,1027.44 1016.30,1038.94" fill="#000" />
<polygon points="1019.90,943.16 1032.90,943.16 1026.40,954.66" fill="#000" />
<polygon points="1029.60,949.18 1042.60,949.18 1036.10,960.68" fill="#000" />
<rect x="1051.4" y="957.9" width="9" height="9" fill="#ee1c1c"/>
<rect x="1061.1" y="1011.2" width="9" height="9" fill="#ee1c1c"/>
<rect x="1070.8" y="937.3" width="9" height="9" fill="#ee1c1c"/>
<rect x="1080.6" y="908.9" width="9" height="9" fill="#ee1c1c"/>
<rect x="1090.6" y="935.6" width="9" height="9" fill="#ee1c1c"/>
<rect x="1100.4" y="944.2" width="9" height="9" fill="#ee1c1c"/>
<rect x="1110.1" y="934.7" width="9" height="9" fill="#ee1c1c"/>
<rect x="1120.2" y="1044.8" width="9" height="9" fill="#ee1c1c"/>
<rect x="1130.2" y="1071.4" width="9" height="9" fill="#ee1c1c"/>
<rect x="1139.9" y="923.5" width="9" height="9" fill="#ee1c1c"/>
<rect x="1149.7" y="908.0" width="9" height="9" fill="#ee1c1c"/>
<rect x="1159.7" y="902.9" width="9" height="9" fill="#ee1c1c"/>
<rect x="1169.4" y="1025.0" width="9" height="9" fill="#ee1c1c"/>
<rect x="1179.5" y="1071.4" width="9" height="9" fill="#ee1c1c"/>
<rect x="1189.2" y="1132.5" width="9" height="9" fill="#ee1c1c"/>
<rect x="1199.0" y="1124.8" width="9" height="9" fill="#ee1c1c"/>
<rect x="1208.7" y="1115.3" width="9" height="9" fill="#ee1c1c"/>
<rect x="1218.4" y="1117.9" width="9" height="9" fill="#ee1c1c"/>
<rect x="1228.1" y="1144.5" width="9" height="9" fill="#ee1c1c"/>
<circle cx="772.70" cy="1210.10" r="11.00" fill="#8e2a9c" />
<circle cx="1244.10" cy="1210.10" r="11.00" fill="#8e2a9c" />
<circle cx="1043.30" cy="946.94" r="11.50" fill="#000" />
<text x="821.0" y="814.0" font-size="28" text-anchor="middle" fill="#000" >(32, 10)</text>
<text x="1021.0" y="814.0" font-size="28" text-anchor="middle" fill="#000" >(49, 17)</text>
<text x="1167.0" y="814.0" font-size="28" text-anchor="middle" fill="#e02020" >(2, 28)</text>
<text x="820.0" y="860.0" font-size="28" text-anchor="middle" fill="#000" >26.7</text>
<text x="1025.0" y="860.0" font-size="28" text-anchor="middle" fill="#000" >30.5</text>
<text x="1167.0" y="860.0" font-size="28" text-anchor="middle" fill="#e02020" >35.2</text>
<line x1="818.80" y1="870.00" x2="818.80" y2="950.00" stroke="#000" stroke-width="2" />
<polygon points="818.80,968.00 811.80,950.00 825.80,950.00" fill="#000" />
<line x1="1027.50" y1="870.00" x2="1027.50" y2="916.00" stroke="#000" stroke-width="2" />
<polygon points="1027.50,934.00 1020.50,916.00 1034.50,916.00" fill="#000" />
<line x1="1166.00" y1="870.00" x2="1166.00" y2="882.00" stroke="#ee1111" stroke-width="2.5" />
<polygon points="1166.00,898.00 1159.00,882.00 1173.00,882.00" fill="#ee1111" />
<line x1="1043.30" y1="1078.00" x2="1043.30" y2="990.00" stroke="#000" stroke-width="2" />
<polygon points="1043.30,972.00 1050.30,990.00 1036.30,990.00" fill="#000" />
<text x="984.0" y="1111.0" font-size="28" text-anchor="middle" fill="#000" font-weight="bold" >I</text>
<text x="1001.0" y="1111.0" font-size="28" text-anchor="start" fill="#000" >(48, 19)</text>
<text x="800.0" y="1240.0" font-size="28" text-anchor="middle" fill="#000" font-weight="bold" >II</text>
<text x="822.0" y="1240.0" font-size="28" text-anchor="start" fill="#000" >(28, 10)</text>
<text x="1084.0" y="1240.0" font-size="28" text-anchor="start" fill="#e02020" >(10, 28)</text>
<text x="1196.0" y="1240.0" font-size="28" text-anchor="start" fill="#e02020" font-weight="bold" >II'</text>
<polygon points="811.60,1156.50 827.40,1156.50 819.50,1170.00" fill="#000" />
<text x="845.0" y="1174.0" font-size="28" text-anchor="start" fill="#000" >Path R3</text>
<rect x="1006.6" y="1155.4" width="18" height="17" fill="#ee1c1c"/>
<text x="1040.0" y="1174.0" font-size="28" text-anchor="start" fill="#e02020" >Path R4</text>
</g>
<g id="panel-d">
<rect x="1310" y="780" width="591" height="474" fill="none" stroke="#000" stroke-width="2.5"/>
<text x="1380.0" y="765.0" font-size="29" text-anchor="start" fill="#000" font-weight="bold" >Position Numbers on the Loop</text>
<text x="1288.0" y="765.0" font-size="31" text-anchor="start" fill="#000" font-weight="bold" >d</text>
<polyline points="1594.8,876.7 1607.3,855.1 1639.3,855.1 1655.3,882.8 1639.3,910.5 1607.3,910.5 1594.8,888.9" fill="none" stroke="#7d1f86" stroke-width="2.2" stroke-linejoin="miter"/>
<polyline points="1747.7,888.9 1735.2,910.5 1703.2,910.5 1687.2,882.8 1703.2,855.1 1735.2,855.1 1747.7,876.7" fill="none" stroke="#7d1f86" stroke-width="2.2" stroke-linejoin="miter"/>
<line x1="1655.30" y1="882.80" x2="1687.20" y2="882.80" stroke="#7d1f86" stroke-width="2.2" />
<line x1="1598.68" y1="880.41" x2="1608.92" y2="862.68" stroke="#7d1f86" stroke-width="2.2" />
<line x1="1637.68" y1="862.68" x2="1647.92" y2="880.41" stroke="#7d1f86" stroke-width="2.2" />
<line x1="1633.54" y1="905.31" x2="1613.06" y2="905.31" stroke="#7d1f86" stroke-width="2.2" />
<line x1="1708.96" y1="860.29" x2="1729.44" y2="860.29" stroke="#7d1f86" stroke-width="2.2" />
<line x1="1743.82" y1="885.19" x2="1733.58" y2="902.92" stroke="#7d1f86" stroke-width="2.2" />
<line x1="1704.82" y1="902.92" x2="1694.58" y2="885.19" stroke="#7d1f86" stroke-width="2.2" />
<text x="1592.3" y="890.3" font-size="20" text-anchor="middle" fill="#7d1f86" >N</text>
<text x="1752.2" y="890.3" font-size="20" text-anchor="middle" fill="#7d1f86" >N</text>
<polyline points="1594.8,1154.9 1607.3,1133.3 1639.3,1133.3 1655.3,1161.0 1639.3,1188.7 1607.3,1188.7 1594.8,1167.1" fill="none" stroke="#7d1f86" stroke-width="2.2" stroke-linejoin="miter"/>
<polyline points="1747.7,1167.1 1735.2,1188.7 1703.2,1188.7 1687.2,1161.0 1703.2,1133.3 1735.2,1133.3 1747.7,1154.9" fill="none" stroke="#7d1f86" stroke-width="2.2" stroke-linejoin="miter"/>
<line x1="1655.30" y1="1161.00" x2="1687.20" y2="1161.00" stroke="#7d1f86" stroke-width="2.2" />
<line x1="1613.06" y1="1138.49" x2="1633.54" y2="1138.49" stroke="#7d1f86" stroke-width="2.2" />
<line x1="1647.92" y1="1163.39" x2="1637.68" y2="1181.12" stroke="#7d1f86" stroke-width="2.2" />
<line x1="1608.92" y1="1181.12" x2="1598.68" y2="1163.39" stroke="#7d1f86" stroke-width="2.2" />
<line x1="1708.96" y1="1138.49" x2="1729.44" y2="1138.49" stroke="#7d1f86" stroke-width="2.2" />
<line x1="1704.82" y1="1181.12" x2="1694.58" y2="1163.39" stroke="#7d1f86" stroke-width="2.2" />
<line x1="1743.82" y1="1163.39" x2="1733.58" y2="1181.12" stroke="#7d1f86" stroke-width="2.2" />
<text x="1592.3" y="1168.5" font-size="20" text-anchor="middle" fill="#7d1f86" >N</text>
<text x="1752.2" y="1168.5" font-size="20" text-anchor="middle" fill="#7d1f86" >N</text>
<polyline points="1759.0,882.8 1797.2,882.8 1826.0,922.6" fill="none" stroke="#111" stroke-width="2.2" stroke-linejoin="miter"/>
<polyline points="1810.1,950.2 1826.1,922.5 1858.1,922.5 1874.1,950.2 1858.1,977.9 1826.1,977.9 1810.1,950.2" fill="none" stroke="#111" stroke-width="2.2" stroke-linejoin="miter"/>
<line x1="1817.48" y1="947.81" x2="1827.72" y2="930.08" stroke="#111" stroke-width="2.2" />
<line x1="1856.48" y1="930.08" x2="1866.72" y2="947.81" stroke="#111" stroke-width="2.2" />
<line x1="1852.34" y1="972.71" x2="1831.86" y2="972.71" stroke="#111" stroke-width="2.2" />
<polyline points="1858.1,977.9 1886.5,1020.5 1859.6,1063.6" fill="none" stroke="#111" stroke-width="2.2" stroke-linejoin="miter"/>
<polyline points="1811.6,1091.3 1827.6,1063.6 1859.6,1063.6 1875.6,1091.3 1859.6,1119.0 1827.6,1119.0 1811.6,1091.3" fill="none" stroke="#111" stroke-width="2.2" stroke-linejoin="miter"/>
<line x1="1833.36" y1="1068.79" x2="1853.84" y2="1068.79" stroke="#111" stroke-width="2.2" />
<line x1="1818.98" y1="1093.69" x2="1829.22" y2="1111.42" stroke="#111" stroke-width="2.2" />
<line x1="1868.22" y1="1093.69" x2="1857.98" y2="1111.42" stroke="#111" stroke-width="2.2" />
<polyline points="1827.6,1119.0 1800.6,1161.0 1759.0,1161.0" fill="none" stroke="#111" stroke-width="2.2" stroke-linejoin="miter"/>
<polyline points="1584.5,883.0 1553.1,883.0 1537.1,871.0 1511.6,871.0 1485.3,883.8" fill="none" stroke="#111" stroke-width="2.2" stroke-linejoin="miter"/>
<polyline points="1469.5,884.5 1450.3,873.4 1425.6,886.9 1425.6,916.4 1450.3,930.8 1475.8,915.6 1475.8,896.5" fill="none" stroke="#1a1acc" stroke-width="2.2" stroke-linejoin="miter"/>
<line x1="1450.15" y1="879.64" x2="1466.71" y2="889.32" stroke="#1a1acc" stroke-width="2.2" />
<line x1="1430.80" y1="892.28" x2="1430.80" y2="911.16" stroke="#1a1acc" stroke-width="2.2" />
<line x1="1452.27" y1="923.57" x2="1468.59" y2="913.84" stroke="#1a1acc" stroke-width="2.2" />
<polyline points="1450.3,873.4 1450.3,843.9" fill="none" stroke="#1a1acc" stroke-width="2.2" stroke-linejoin="miter"/>
<polyline points="1475.8,915.6 1500.5,930.8" fill="none" stroke="#1a1acc" stroke-width="2.2" stroke-linejoin="miter"/>
<text x="1476.5" y="895.5" font-size="20" text-anchor="middle" fill="#1a1acc" >N</text>
<text x="1475.8" y="876.0" font-size="20" text-anchor="middle" fill="#111" >+</text>
<polyline points="1425.6,916.4 1400.9,931.6 1378.5,934.0 1371.4,955.5 1350.6,961.9 1349.8,993.0 1333.9,1013.2 1346.5,1038.5" fill="none" stroke="#111" stroke-width="2.2" stroke-linejoin="miter"/>
<polyline points="1358.5,1050.5 1384.1,1052.2 1389.7,1083.3 1369.5,1092.0" fill="none" stroke="#dd33dd" stroke-width="2.2" stroke-linejoin="miter"/>
<line x1="1379.51" y1="1057.71" x2="1383.43" y2="1079.48" stroke="#dd33dd" stroke-width="2.2" />
<line x1="1342.80" y1="1068.30" x2="1347.50" y2="1058.50" stroke="#dd33dd" stroke-width="2.2" />
<line x1="1346.50" y1="1082.50" x2="1355.50" y2="1087.00" stroke="#dd33dd" stroke-width="2.2" />
<line x1="1343.50" y1="1087.50" x2="1352.50" y2="1092.00" stroke="#dd33dd" stroke-width="2.2" />
<text x="1352.7" y="1057.3" font-size="20" text-anchor="middle" fill="#dd33dd" >N</text>
<text x="1363.9" y="1102.8" font-size="20" text-anchor="middle" fill="#dd33dd" >N</text>
<text x="1340.0" y="1085.4" font-size="20" text-anchor="middle" fill="#dd33dd" >N</text>
<polyline points="1389.7,1083.3 1415.2,1090.5 1424.8,1112.0" fill="none" stroke="#111" stroke-width="2.2" stroke-linejoin="miter"/>
<text x="1428.7" y="1127.5" font-size="21" text-anchor="middle" fill="#dd2222" >O</text>
<polyline points="1435.9,1124.0 1463.0,1134.3" fill="none" stroke="#111" stroke-width="2.2" stroke-linejoin="miter"/>
<polyline points="1463.0,1134.3 1485.3,1112.0 1516.4,1121.6 1522.8,1151.1 1500.5,1172.6 1469.4,1163.8 1463.0,1134.3" fill="none" stroke="#33dd33" stroke-width="2.2" stroke-linejoin="miter"/>
<line x1="1470.62" y1="1134.03" x2="1484.89" y2="1119.76" stroke="#33dd33" stroke-width="2.2" />
<line x1="1512.49" y1="1128.10" x2="1516.58" y2="1146.98" stroke="#33dd33" stroke-width="2.2" />
<line x1="1496.44" y1="1166.05" x2="1476.54" y2="1160.42" stroke="#33dd33" stroke-width="2.2" />
<polyline points="1469.4,1163.8 1447.9,1186.1 1416.8,1178.2" fill="none" stroke="#33dd33" stroke-width="2.2" stroke-linejoin="miter"/>
<polyline points="1447.9,1186.1 1455.8,1217.2" fill="none" stroke="#33dd33" stroke-width="2.2" stroke-linejoin="miter"/>
<polyline points="1522.8,1151.1 1549.1,1160.6 1584.5,1160.6" fill="none" stroke="#111" stroke-width="2.2" stroke-linejoin="miter"/>
<text x="1429.5" y="869.0" font-size="19" text-anchor="middle" fill="#111" >37</text>
<text x="1497.3" y="904.9" font-size="19" text-anchor="middle" fill="#111" >36</text>
<text x="1506.8" y="859.5" font-size="19" text-anchor="middle" fill="#111" >35</text>
<text x="1539.5" y="859.5" font-size="19" text-anchor="middle" fill="#111" >34</text>
<text x="1545.9" y="906.5" font-size="19" text-anchor="middle" fill="#111" >33</text>
<text x="1579.0" y="908.9" font-size="19" text-anchor="middle" fill="#111" >32</text>
<text x="1601.2" y="847.2" font-size="19" text-anchor="middle" fill="#111" >31</text>
<text x="1644.5" y="847.2" font-size="19" text-anchor="middle" fill="#111" >30</text>
<text x="1667.4" y="872.6" font-size="19" text-anchor="middle" fill="#111" >29</text>
<text x="1673.3" y="909.1" font-size="19" text-anchor="middle" fill="#111" >28</text>
<text x="1700.1" y="847.2" font-size="19" text-anchor="middle" fill="#111" >27</text>
<text x="1739.5" y="847.2" font-size="19" text-anchor="middle" fill="#111" >26</text>
<text x="1762.4" y="909.1" font-size="19" text-anchor="middle" fill="#111" >25</text>
<text x="1808.2" y="872.6" font-size="19" text-anchor="middle" fill="#111" >24</text>
<text x="1841.3" y="912.5" font-size="19" text-anchor="middle" fill="#111" >23</text>
<text x="1792.1" y="965.1" font-size="19" text-anchor="middle" fill="#111" >22</text>
<text x="1883.7" y="981.2" font-size="19" text-anchor="middle" fill="#111" >20</text>
<text x="1809.9" y="1004.1" font-size="19" text-anchor="middle" fill="#111" >21</text>
<text x="1859.1" y="1030.4" font-size="19" text-anchor="middle" fill="#111" >19</text>
<text x="1884.5" y="1071.9" font-size="19" text-anchor="middle" fill="#111" >18</text>
<text x="1811.6" y="1059.2" font-size="19" text-anchor="middle" fill="#111" >17</text>
<text x="1789.5" y="1093.1" font-size="19" text-anchor="middle" fill="#111" >16</text>
<text x="1804.8" y="1124.5" font-size="19" text-anchor="middle" fill="#111" >15</text>
<text x="1802.3" y="1184.8" font-size="19" text-anchor="middle" fill="#111" >14</text>
<text x="1759.8" y="1147.4" font-size="19" text-anchor="middle" fill="#111" >13</text>
<text x="1738.1" y="1213.6" font-size="19" text-anchor="middle" fill="#111" >12</text>
<text x="1698.8" y="1213.6" font-size="19" text-anchor="middle" fill="#111" >11</text>
<text x="1678.1" y="1147.4" font-size="19" text-anchor="middle" fill="#111" >10</text>
<text x="1661.4" y="1188.2" font-size="19" text-anchor="middle" fill="#111" >9</text>
<text x="1642.8" y="1213.6" font-size="19" text-anchor="middle" fill="#111" >8</text>
<text x="1606.3" y="1213.6" font-size="19" text-anchor="middle" fill="#111" >7</text>
<text x="1586.8" y="1147.4" font-size="19" text-anchor="middle" fill="#111" >6</text>
<text x="1546.7" y="1183.4" font-size="19" text-anchor="middle" fill="#111" >5</text>
<text x="1533.9" y="1143.5" font-size="19" text-anchor="middle" fill="#111" >4</text>
<text x="1501.3" y="1197.7" font-size="19" text-anchor="middle" fill="#111" >3</text>
<text x="1454.2" y="1166.6" font-size="19" text-anchor="middle" fill="#111" >2</text>
<text x="1459.8" y="1122.8" font-size="19" text-anchor="middle" fill="#111" >1</text>
<text x="1412.0" y="1144.3" font-size="19" text-anchor="middle" fill="#111" >0</text>
<text x="1431.9" y="1085.3" font-size="19" text-anchor="middle" fill="#111" >50</text>
<text x="1392.9" y="1108.4" font-size="19" text-anchor="middle" fill="#111" >49</text>
<text x="1359.4" y="1125.2" font-size="19" text-anchor="middle" fill="#111" >48</text>
<text x="1327.5" y="1106.8" font-size="19" text-anchor="middle" fill="#111" >47</text>
<text x="1328.3" y="1057.4" font-size="19" text-anchor="middle" fill="#111" >46</text>
<text x="1358.6" y="1020.5" font-size="19" text-anchor="middle" fill="#111" >45</text>
<text x="1328.8" y="993.4" font-size="19" text-anchor="middle" fill="#111" >44</text>
<text x="1330.4" y="958.3" font-size="19" text-anchor="middle" fill="#111" >43</text>
<text x="1383.0" y="977.4" font-size="19" text-anchor="middle" fill="#111" >42</text>
<text x="1361.8" y="928.0" font-size="19" text-anchor="middle" fill="#111" >41</text>
<text x="1405.6" y="955.1" font-size="19" text-anchor="middle" fill="#111" >40</text>
<text x="1405.6" y="915.3" font-size="19" text-anchor="middle" fill="#111" >39</text>
<text x="1450.0" y="955.1" font-size="19" text-anchor="middle" fill="#111" >38</text>
<text x="1755.6" y="872.5" font-size="20" text-anchor="middle" fill="#000" >+</text>
<text x="1587.6" y="1186.5" font-size="20" text-anchor="middle" fill="#000" >+</text>
<circle cx="1586.70" cy="866.00" r="2.60" fill="#111" />
<circle cx="1756.50" cy="1177.10" r="2.60" fill="#111" />
</g>
<g id="panel-a">
<circle cx="299" cy="281" r="180" fill="none" stroke="#c9c9cd" stroke-width="11"/>
<circle cx="298" cy="279.5" r="180" fill="none" stroke="#f2f2f4" stroke-width="3" opacity="0.8"/>
<path d="M467.3 203.6 Q498.3 285.3 468.9 357.8" fill="none" stroke="#3a3a3a" stroke-width="9"/>
<polygon points="493.38,210.59 474.29,229.68 448.21,222.69 441.22,196.61 460.31,177.52 486.39,184.51" fill="#4a4a4c" />
<polygon points="494.98,364.79 475.89,383.88 449.81,376.89 442.82,350.81 461.91,331.72 487.99,338.71" fill="#4a4a4c" />
<line x1="260.70" y1="100.30" x2="337.80" y2="100.30" stroke="#4a78e6" stroke-width="12" />
<polygon points="288.70,100.30 274.70,124.55 246.70,124.55 232.70,100.30 246.70,76.05 274.70,76.05" fill="#4a78e6" />
<line x1="249.70" y1="100.30" x2="271.70" y2="100.30" stroke="#fff" stroke-width="3.6" />
<line x1="260.70" y1="89.30" x2="260.70" y2="111.30" stroke="#fff" stroke-width="3.6" />
<polygon points="365.80,100.30 351.80,124.55 323.80,124.55 309.80,100.30 323.80,76.05 351.80,76.05" fill="#4a78e6" />
<line x1="326.80" y1="100.30" x2="348.80" y2="100.30" stroke="#fff" stroke-width="3.6" />
<line x1="337.80" y1="89.30" x2="337.80" y2="111.30" stroke="#fff" stroke-width="3.6" />
<line x1="260.70" y1="461.20" x2="337.80" y2="461.20" stroke="#4a78e6" stroke-width="12" />
<polygon points="288.70,461.20 274.70,485.45 246.70,485.45 232.70,461.20 246.70,436.95 274.70,436.95" fill="#4a78e6" />
<line x1="249.70" y1="461.20" x2="271.70" y2="461.20" stroke="#fff" stroke-width="3.6" />
<line x1="260.70" y1="450.20" x2="260.70" y2="472.20" stroke="#fff" stroke-width="3.6" />
<polygon points="365.80,461.20 351.80,485.45 323.80,485.45 309.80,461.20 323.80,436.95 351.80,436.95" fill="#4a78e6" />
<line x1="326.80" y1="461.20" x2="348.80" y2="461.20" stroke="#fff" stroke-width="3.6" />
<line x1="337.80" y1="450.20" x2="337.80" y2="472.20" stroke="#fff" stroke-width="3.6" />
<line x1="154.20" y1="168.10" x2="135.70" y2="112.60" stroke="#4a78e6" stroke-width="9" />
<line x1="154.20" y1="168.10" x2="211.30" y2="177.40" stroke="#4a78e6" stroke-width="9" />
<polygon points="179.95,171.72 163.94,192.21 138.19,188.59 128.45,164.48 144.46,143.99 170.21,147.61" fill="#4a78e6" />
<line x1="143.20" y1="168.10" x2="165.20" y2="168.10" stroke="#fff" stroke-width="3.6" />
<line x1="154.20" y1="157.10" x2="154.20" y2="179.10" stroke="#fff" stroke-width="3.6" />
<circle cx="135.70" cy="112.60" r="12.00" fill="url(#ballB)" />
<circle cx="211.30" cy="177.40" r="12.00" fill="url(#ballB)" />
<line x1="165.00" y1="404.10" x2="120.00" y2="412.00" stroke="#1ecc1e" stroke-width="9" />
<line x1="120.00" y1="412.00" x2="98.70" y2="394.90" stroke="#1ecc1e" stroke-width="9" />
<line x1="120.00" y1="412.00" x2="106.40" y2="450.40" stroke="#1ecc1e" stroke-width="9" />
<polygon points="191.41,409.71 173.34,429.78 146.93,424.16 138.59,398.49 156.66,378.42 183.07,384.04" fill="#1ecc1e" />
<circle cx="98.70" cy="394.90" r="12.00" fill="url(#ballG)" />
<circle cx="106.40" cy="450.40" r="12.00" fill="url(#ballG)" />
<circle cx="132.60" cy="367.10" r="12.50" fill="url(#ballR)" />
<path d="M21.1 260.5 H207.1 V310.5 H21.1 Z" fill="none" stroke="#3a66d6" stroke-width="15" stroke-linejoin="round"/>
<polygon points="103.80,255.50 89.55,280.18 61.05,280.18 46.80,255.50 61.05,230.82 89.55,230.82" fill="#4a78e6" />
<line x1="64.30" y1="255.50" x2="86.30" y2="255.50" stroke="#fff" stroke-width="3.6" />
<line x1="75.30" y1="244.50" x2="75.30" y2="266.50" stroke="#fff" stroke-width="3.6" />
<polygon points="179.90,255.50 165.65,280.18 137.15,280.18 122.90,255.50 137.15,230.82 165.65,230.82" fill="#4a78e6" />
<line x1="140.40" y1="255.50" x2="162.40" y2="255.50" stroke="#fff" stroke-width="3.6" />
<line x1="151.40" y1="244.50" x2="151.40" y2="266.50" stroke="#fff" stroke-width="3.6" />
<polygon points="103.80,307.00 89.55,331.68 61.05,331.68 46.80,307.00 61.05,282.32 89.55,282.32" fill="#4a78e6" />
<line x1="64.30" y1="307.00" x2="86.30" y2="307.00" stroke="#fff" stroke-width="3.6" />
<line x1="75.30" y1="296.00" x2="75.30" y2="318.00" stroke="#fff" stroke-width="3.6" />
<polygon points="179.90,307.00 165.65,331.68 137.15,331.68 122.90,307.00 137.15,282.32 165.65,282.32" fill="#4a78e6" />
<line x1="140.40" y1="307.00" x2="162.40" y2="307.00" stroke="#fff" stroke-width="3.6" />
<line x1="151.40" y1="296.00" x2="151.40" y2="318.00" stroke="#fff" stroke-width="3.6" />
<polygon points="120.90,263.42 132.38,289.19 111.41,308.07 86.97,293.96 92.84,266.36" fill="#c800c8" />
<path d="M393.1 260.5 H580.1 V307.5 H393.1 Z" fill="none" stroke="#3a66d6" stroke-width="15" stroke-linejoin="round"/>
<polygon points="474.30,255.50 460.05,280.18 431.55,280.18 417.30,255.50 431.55,230.82 460.05,230.82" fill="#4a78e6" />
<line x1="434.80" y1="255.50" x2="456.80" y2="255.50" stroke="#fff" stroke-width="3.6" />
<line x1="445.80" y1="244.50" x2="445.80" y2="266.50" stroke="#fff" stroke-width="3.6" />
<polygon points="551.40,255.50 537.15,280.18 508.65,280.18 494.40,255.50 508.65,230.82 537.15,230.82" fill="#4a78e6" />
<line x1="511.90" y1="255.50" x2="533.90" y2="255.50" stroke="#fff" stroke-width="3.6" />
<line x1="522.90" y1="244.50" x2="522.90" y2="266.50" stroke="#fff" stroke-width="3.6" />
<polygon points="474.30,304.00 460.05,328.68 431.55,328.68 417.30,304.00 431.55,279.32 460.05,279.32" fill="#4a78e6" />
<line x1="434.80" y1="304.00" x2="456.80" y2="304.00" stroke="#fff" stroke-width="3.6" />
<line x1="445.80" y1="293.00" x2="445.80" y2="315.00" stroke="#fff" stroke-width="3.6" />
<polygon points="551.40,304.00 537.15,328.68 508.65,328.68 494.40,304.00 508.65,279.32 537.15,279.32" fill="#4a78e6" />
<line x1="511.90" y1="304.00" x2="533.90" y2="304.00" stroke="#fff" stroke-width="3.6" />
<line x1="522.90" y1="293.00" x2="522.90" y2="315.00" stroke="#fff" stroke-width="3.6" />
<path d="M467 230 Q492 285 470 335" fill="none" stroke="#3a3a3a" stroke-width="9"/>
<circle cx="484.30" cy="285.30" r="15.50" fill="url(#ballD)" />
<text x="484.3" y="297.3" font-size="33" text-anchor="middle" fill="#eee" >1</text>
<circle cx="419.50" cy="138.80" r="15.50" fill="url(#ballW)" />
<text x="419.5" y="150.8" font-size="33" text-anchor="middle" fill="#000" >1</text>
<circle cx="419.50" cy="425.70" r="15.50" fill="url(#ballW)" />
<text x="419.5" y="437.7" font-size="33" text-anchor="middle" fill="#000" >1</text>
<circle cx="206.70" cy="441.10" r="15.50" fill="url(#ballW)" />
<text x="206.7" y="453.1" font-size="33" text-anchor="middle" fill="#000" >1</text>
<circle cx="200.50" cy="123.40" r="15.50" fill="url(#ballW)" />
<text x="200.5" y="135.4" font-size="33" text-anchor="middle" fill="#000" >3</text>
<circle cx="121.80" cy="219.00" r="15.50" fill="url(#ballW)" />
<text x="121.8" y="231.0" font-size="33" text-anchor="middle" fill="#000" >6</text>
<circle cx="118.80" cy="331.60" r="15.50" fill="url(#ballW)" />
<text x="118.8" y="343.6" font-size="33" text-anchor="middle" fill="#000" >1</text>
<text x="7.0" y="28.0" font-size="33" text-anchor="start" fill="#000" font-weight="bold" >a</text>
<text x="87.0" y="28.5" font-size="29" text-anchor="start" fill="#000" >Original</text>
<text x="498.0" y="28.0" font-size="29" text-anchor="middle" fill="#000" font-weight="bold" >Oxidized</text>
<text x="498.0" y="62.0" font-size="29" text-anchor="middle" fill="#000" font-weight="bold" >State</text>
<text x="502.0" y="96.0" font-size="29" text-anchor="middle" fill="#000" font-weight="bold" >I</text>
<text x="27.5" y="367.0" font-size="29" text-anchor="middle" fill="#1a1acc" font-weight="bold" >A</text>
<text x="573.5" y="228.0" font-size="29" text-anchor="middle" fill="#1a1acc" font-weight="bold" >B</text>
<line x1="297.90" y1="517.60" x2="297.90" y2="644.00" stroke="#222" stroke-width="2" />
<polygon points="297.90,662.00 290.90,644.00 304.90,644.00" fill="#222" />
<text x="73.5" y="594.5" font-size="29" text-anchor="start" fill="#000" >Reduction</text>
<text x="349.0" y="591.0" font-size="28" text-anchor="start" fill="#000" >+ 6e<tspan font-size="19" dy="-12">−</tspan></text>
<circle cx="299" cy="916.5" r="180" fill="none" stroke="#c9c9cd" stroke-width="11"/>
<circle cx="298" cy="915.0" r="180" fill="none" stroke="#f2f2f4" stroke-width="3" opacity="0.8"/>
<path d="M466.1 839.6 Q497.7 918.0 466.1 998.1" fill="none" stroke="#3a3a3a" stroke-width="9"/>
<polygon points="492.18,846.59 473.09,865.68 447.01,858.69 440.02,832.61 459.11,813.52 485.19,820.51" fill="#4a4a4c" />
<polygon points="492.18,1005.09 473.09,1024.18 447.01,1017.19 440.02,991.11 459.11,972.02 485.19,979.01" fill="#4a4a4c" />
<line x1="259.50" y1="737.00" x2="338.00" y2="737.00" stroke="#7a1a7c" stroke-width="12" />
<polygon points="287.50,737.00 273.50,761.25 245.50,761.25 231.50,737.00 245.50,712.75 273.50,712.75" fill="#7a1a7c" />
<circle cx="259.50" cy="737.00" r="4.20" fill="#f4f4f4" />
<polygon points="366.00,737.00 352.00,761.25 324.00,761.25 310.00,737.00 324.00,712.75 352.00,712.75" fill="#7a1a7c" />
<line x1="327.00" y1="737.00" x2="349.00" y2="737.00" stroke="#fff" stroke-width="3.6" />
<line x1="338.00" y1="726.00" x2="338.00" y2="748.00" stroke="#fff" stroke-width="3.6" />
<line x1="259.50" y1="1096.00" x2="338.00" y2="1096.00" stroke="#7a1a7c" stroke-width="12" />
<polygon points="287.50,1096.00 273.50,1120.25 245.50,1120.25 231.50,1096.00 245.50,1071.75 273.50,1071.75" fill="#7a1a7c" />
<line x1="248.50" y1="1096.00" x2="270.50" y2="1096.00" stroke="#fff" stroke-width="3.6" />
<line x1="259.50" y1="1085.00" x2="259.50" y2="1107.00" stroke="#fff" stroke-width="3.6" />
<polygon points="366.00,1096.00 352.00,1120.25 324.00,1120.25 310.00,1096.00 324.00,1071.75 352.00,1071.75" fill="#7a1a7c" />
<circle cx="338.00" cy="1096.00" r="4.20" fill="#f4f4f4" />
<line x1="153.80" y1="802.70" x2="134.50" y2="749.90" stroke="#4a78e6" stroke-width="9" />
<line x1="153.80" y1="802.70" x2="211.40" y2="810.70" stroke="#4a78e6" stroke-width="9" />
<polygon points="179.55,806.32 163.54,826.81 137.79,823.19 128.05,799.08 144.06,778.59 169.81,782.21" fill="#4a78e6" />
<line x1="142.80" y1="802.70" x2="164.80" y2="802.70" stroke="#fff" stroke-width="3.6" />
<line x1="153.80" y1="791.70" x2="153.80" y2="813.70" stroke="#fff" stroke-width="3.6" />
<circle cx="134.50" cy="749.90" r="12.00" fill="url(#ballB)" />
<circle cx="211.40" cy="810.70" r="12.00" fill="url(#ballB)" />
<line x1="161.80" y1="1031.80" x2="118.00" y2="1050.00" stroke="#1ecc1e" stroke-width="9" />
<line x1="118.00" y1="1050.00" x2="96.10" y2="1028.60" stroke="#1ecc1e" stroke-width="9" />
<line x1="118.00" y1="1050.00" x2="105.70" y2="1076.60" stroke="#1ecc1e" stroke-width="9" />
<polygon points="188.21,1037.41 170.14,1057.48 143.73,1051.86 135.39,1026.19 153.46,1006.12 179.87,1011.74" fill="#1ecc1e" />
<circle cx="96.10" cy="1028.60" r="12.00" fill="url(#ballG)" />
<circle cx="105.70" cy="1076.60" r="12.00" fill="url(#ballG)" />
<circle cx="132.90" cy="1002.90" r="12.50" fill="url(#ballR)" />
<circle cx="200.20" cy="762.70" r="15.50" fill="url(#ballW)" />
<circle cx="419.60" cy="773.90" r="15.50" fill="url(#ballW)" />
<circle cx="121.70" cy="854.00" r="15.50" fill="url(#ballW)" />
<circle cx="118.50" cy="964.50" r="15.50" fill="url(#ballW)" />
<circle cx="200.20" cy="1073.40" r="15.50" fill="url(#ballW)" />
<circle cx="416.40" cy="1062.20" r="15.50" fill="url(#ballW)" />
<path d="M20.5 890.1 H207.5 V940.1 H20.5 Z" fill="none" stroke="#940c9c" stroke-width="15" stroke-linejoin="round"/>
<polygon points="103.80,887.30 89.55,911.98 61.05,911.98 46.80,887.30 61.05,862.62 89.55,862.62" fill="#c20cc8" />
<circle cx="75.30" cy="887.30" r="4.20" fill="#f4f4f4" />
<polygon points="180.70,887.30 166.45,911.98 137.95,911.98 123.70,887.30 137.95,862.62 166.45,862.62" fill="#c20cc8" />
<line x1="141.20" y1="887.30" x2="163.20" y2="887.30" stroke="#fff" stroke-width="3.6" />
<line x1="152.20" y1="876.30" x2="152.20" y2="898.30" stroke="#fff" stroke-width="3.6" />
<polygon points="103.80,938.20 89.55,962.88 61.05,962.88 46.80,938.20 61.05,913.52 89.55,913.52" fill="#c20cc8" />
<line x1="64.30" y1="938.20" x2="86.30" y2="938.20" stroke="#fff" stroke-width="3.6" />
<line x1="75.30" y1="927.20" x2="75.30" y2="949.20" stroke="#fff" stroke-width="3.6" />
<polygon points="180.70,938.20 166.45,962.88 137.95,962.88 123.70,938.20 137.95,913.52 166.45,913.52" fill="#c20cc8" />
<circle cx="152.20" cy="938.20" r="4.20" fill="#f4f4f4" />
<polygon points="122.50,892.42 133.98,918.19 113.01,937.07 88.57,922.96 94.44,895.36" fill="#c800c8" />
<path d="M390.3 890.1 H575.5 V940.1 H390.3 Z" fill="none" stroke="#940c9c" stroke-width="15" stroke-linejoin="round"/>
<polygon points="472.20,887.30 457.95,911.98 429.45,911.98 415.20,887.30 429.45,862.62 457.95,862.62" fill="#c20cc8" />
<circle cx="443.70" cy="887.30" r="4.20" fill="#f4f4f4" />
<polygon points="549.00,887.30 534.75,911.98 506.25,911.98 492.00,887.30 506.25,862.62 534.75,862.62" fill="#c20cc8" />
<line x1="509.50" y1="887.30" x2="531.50" y2="887.30" stroke="#fff" stroke-width="3.6" />
<line x1="520.50" y1="876.30" x2="520.50" y2="898.30" stroke="#fff" stroke-width="3.6" />
<polygon points="472.20,938.20 457.95,962.88 429.45,962.88 415.20,938.20 429.45,913.52 457.95,913.52" fill="#c20cc8" />
<line x1="432.70" y1="938.20" x2="454.70" y2="938.20" stroke="#fff" stroke-width="3.6" />
<line x1="443.70" y1="927.20" x2="443.70" y2="949.20" stroke="#fff" stroke-width="3.6" />
<polygon points="549.00,938.20 534.75,962.88 506.25,962.88 492.00,938.20 506.25,913.52 534.75,913.52" fill="#c20cc8" />
<circle cx="520.50" cy="938.20" r="4.20" fill="#f4f4f4" />
<path d="M466 866 Q490 918 468 972" fill="none" stroke="#3a3a3a" stroke-width="9"/>
<circle cx="483.70" cy="918.00" r="15.50" fill="url(#ballD)" />
<text x="498.0" y="689.0" font-size="29" text-anchor="middle" fill="#000" font-weight="bold" >Reduced</text>
<text x="498.0" y="722.5" font-size="29" text-anchor="middle" fill="#000" font-weight="bold" >State</text>
<text x="502.0" y="759.5" font-size="29" text-anchor="middle" fill="#000" font-weight="bold" >I</text>
<text x="27.0" y="995.0" font-size="29" text-anchor="middle" fill="#7a1a7c" font-weight="bold" >A</text>
<text x="569.5" y="857.0" font-size="29" text-anchor="middle" fill="#7a1a7c" font-weight="bold" >B</text>
<path d="M22.4 868.4 Q24 830 33 812" fill="none" stroke="#111" stroke-width="2.2"/>
<polygon points="35.50,805.00 39.00,823.00 28.00,818.00" fill="#111" />
<path d="M578.2 961.3 Q577 995 571 1015" fill="none" stroke="#111" stroke-width="2.2"/>
<polygon points="569.50,1022.00 565.00,1004.00 576.50,1008.00" fill="#111" />
<line x1="299.00" y1="1136.00" x2="299.00" y2="1261.00" stroke="#222" stroke-width="2" />
<polygon points="299.00,1279.00 292.00,1261.00 306.00,1261.00" fill="#222" />
<text x="73.0" y="1215.5" font-size="29" text-anchor="start" fill="#000" >Relaxation</text>
<text x="349.0" y="1215.5" font-size="29" text-anchor="start" fill="#000" >Fast</text>
<circle cx="299" cy="1580" r="180" fill="none" stroke="#c9c9cd" stroke-width="11"/>
<circle cx="298" cy="1578.5" r="180" fill="none" stroke="#f2f2f4" stroke-width="3" opacity="0.8"/>
<path d="M466 1504 Q500 1583 466 1656" fill="none" stroke="#3a3a3a" stroke-width="10"/>
<polygon points="492.28,1510.99 473.19,1530.08 447.11,1523.09 440.12,1497.01 459.21,1477.92 485.29,1484.91" fill="#4a4a4c" />
<polygon points="492.28,1663.49 473.19,1682.58 447.11,1675.59 440.12,1649.51 459.21,1630.42 485.29,1637.41" fill="#4a4a4c" />
<circle cx="485.00" cy="1583.40" r="15.50" fill="url(#ballD)" />
<text x="485.0" y="1595.4" font-size="33" text-anchor="middle" fill="#eee" >1</text>
<line x1="154.70" y1="1464.20" x2="133.80" y2="1412.00" stroke="#4a78e6" stroke-width="9" />
<line x1="154.70" y1="1464.20" x2="211.10" y2="1474.70" stroke="#4a78e6" stroke-width="9" />
<polygon points="180.45,1467.82 164.44,1488.31 138.69,1484.69 128.95,1460.58 144.96,1440.09 170.71,1443.71" fill="#4a78e6" />
<line x1="143.70" y1="1464.20" x2="165.70" y2="1464.20" stroke="#fff" stroke-width="3.6" />
<line x1="154.70" y1="1453.20" x2="154.70" y2="1475.20" stroke="#fff" stroke-width="3.6" />
<circle cx="133.80" cy="1412.00" r="12.00" fill="url(#ballB)" />
<circle cx="211.10" cy="1474.70" r="12.00" fill="url(#ballB)" />
<line x1="163.10" y1="1702.50" x2="118.00" y2="1712.00" stroke="#1ecc1e" stroke-width="9" />
<line x1="118.00" y1="1712.00" x2="96.20" y2="1692.00" stroke="#1ecc1e" stroke-width="9" />
<line x1="118.00" y1="1712.00" x2="104.50" y2="1748.50" stroke="#1ecc1e" stroke-width="9" />
<polygon points="189.51,1708.11 171.44,1728.18 145.03,1722.56 136.69,1696.89 154.76,1676.82 181.17,1682.44" fill="#1ecc1e" />
<circle cx="96.20" cy="1692.00" r="12.00" fill="url(#ballG)" />
<circle cx="104.50" cy="1748.50" r="12.00" fill="url(#ballG)" />
<circle cx="133.00" cy="1666.20" r="12.50" fill="url(#ballR)" />
<polygon points="108.70,1549.00 133.43,1566.97 123.98,1596.03 93.42,1596.03 83.97,1566.97" fill="#c800c8" />
<circle cx="198.60" cy="1420.30" r="15.50" fill="url(#ballW)" />
<text x="198.6" y="1432.3" font-size="33" text-anchor="middle" fill="#000" >3</text>
<circle cx="418.10" cy="1434.90" r="15.50" fill="url(#ballW)" />
<text x="418.1" y="1446.9" font-size="33" text-anchor="middle" fill="#000" >1</text>
<circle cx="121.30" cy="1518.60" r="15.50" fill="url(#ballW)" />
<text x="121.3" y="1530.6" font-size="33" text-anchor="middle" fill="#000" >6</text>
<circle cx="115.00" cy="1629.40" r="15.50" fill="url(#ballW)" />
<text x="115.0" y="1641.4" font-size="33" text-anchor="middle" fill="#000" >1</text>
<circle cx="204.90" cy="1740.20" r="15.50" fill="url(#ballW)" />
<text x="204.9" y="1752.2" font-size="33" text-anchor="middle" fill="#000" >1</text>
<circle cx="418.10" cy="1725.50" r="15.50" fill="url(#ballW)" />
<text x="418.1" y="1737.5" font-size="33" text-anchor="middle" fill="#000" >1</text>
<rect x="271.1" y="1305.0" width="55.2" height="165.3" fill="none" stroke="#5e0f60" stroke-width="11.5" rx="4"/>
<polygon points="270.50,1331.40 297.00,1344.15 297.00,1369.65 270.50,1382.40 244.00,1369.65 244.00,1344.15" fill="#7c0c86" stroke="#5e0f60" stroke-width="1.5"/>
<polygon points="326.50,1335.90 353.00,1348.65 353.00,1374.15 326.50,1386.90 300.00,1374.15 300.00,1348.65" fill="#7c0c86" stroke="#5e0f60" stroke-width="1.5"/>
<polygon points="270.50,1412.70 297.00,1425.45 297.00,1450.95 270.50,1463.70 244.00,1450.95 244.00,1425.45" fill="#7c0c86" stroke="#5e0f60" stroke-width="1.5"/>
<polygon points="326.50,1414.00 353.00,1426.75 353.00,1452.25 326.50,1465.00 300.00,1452.25 300.00,1426.75" fill="#7c0c86" stroke="#5e0f60" stroke-width="1.5"/>
<polygon points="259.20,1372.40 285.70,1385.15 285.70,1410.65 259.20,1423.40 232.70,1410.65 232.70,1385.15" fill="#7c0c86" stroke="#5e0f60" stroke-width="1.5"/>
<polygon points="340.30,1373.70 366.80,1386.45 366.80,1411.95 340.30,1424.70 313.80,1411.95 313.80,1386.45" fill="#7c0c86" stroke="#5e0f60" stroke-width="1.5"/>
<rect x="286" y="1390.5" width="30" height="16" fill="#6a0874"/>
<line x1="264.50" y1="1356.90" x2="284.50" y2="1356.90" stroke="#ece4ee" stroke-width="3.2" />
<line x1="274.50" y1="1346.90" x2="274.50" y2="1366.90" stroke="#ece4ee" stroke-width="3.2" />
<circle cx="329.50" cy="1361.40" r="4.50" fill="#ece4ee" />
<circle cx="262.20" cy="1397.90" r="4.50" fill="#ece4ee" />
<line x1="334.30" y1="1399.20" x2="354.30" y2="1399.20" stroke="#ece4ee" stroke-width="3.2" />
<line x1="344.30" y1="1389.20" x2="344.30" y2="1409.20" stroke="#ece4ee" stroke-width="3.2" />
<circle cx="273.50" cy="1438.20" r="4.50" fill="#ece4ee" />
<line x1="320.50" y1="1439.50" x2="340.50" y2="1439.50" stroke="#ece4ee" stroke-width="3.2" />
<line x1="330.50" y1="1429.50" x2="330.50" y2="1449.50" stroke="#ece4ee" stroke-width="3.2" />
<rect x="270.4" y="1665.0" width="56.3" height="178.8" fill="none" stroke="#5e0f60" stroke-width="11.5" rx="4"/>
<polygon points="269.70,1692.20 296.20,1704.95 296.20,1730.45 269.70,1743.20 243.20,1730.45 243.20,1704.95" fill="#7c0c86" stroke="#5e0f60" stroke-width="1.5"/>
<polygon points="325.60,1697.20 352.10,1709.95 352.10,1735.45 325.60,1748.20 299.10,1735.45 299.10,1709.95" fill="#7c0c86" stroke="#5e0f60" stroke-width="1.5"/>
<polygon points="269.70,1773.70 296.20,1786.45 296.20,1811.95 269.70,1824.70 243.20,1811.95 243.20,1786.45" fill="#7c0c86" stroke="#5e0f60" stroke-width="1.5"/>
<polygon points="325.60,1778.70 352.10,1791.45 352.10,1816.95 325.60,1829.70 299.10,1816.95 299.10,1791.45" fill="#7c0c86" stroke="#5e0f60" stroke-width="1.5"/>
<polygon points="258.50,1733.90 285.00,1746.65 285.00,1772.15 258.50,1784.90 232.00,1772.15 232.00,1746.65" fill="#7c0c86" stroke="#5e0f60" stroke-width="1.5"/>
<polygon points="341.80,1734.50 368.30,1747.25 368.30,1772.75 341.80,1785.50 315.30,1772.75 315.30,1747.25" fill="#7c0c86" stroke="#5e0f60" stroke-width="1.5"/>
<rect x="286" y="1751.5" width="30" height="16" fill="#6a0874"/>
<line x1="263.70" y1="1717.70" x2="283.70" y2="1717.70" stroke="#ece4ee" stroke-width="3.2" />
<line x1="273.70" y1="1707.70" x2="273.70" y2="1727.70" stroke="#ece4ee" stroke-width="3.2" />
<circle cx="328.60" cy="1722.70" r="4.50" fill="#ece4ee" />
<line x1="252.50" y1="1759.40" x2="272.50" y2="1759.40" stroke="#ece4ee" stroke-width="3.2" />
<line x1="262.50" y1="1749.40" x2="262.50" y2="1769.40" stroke="#ece4ee" stroke-width="3.2" />
<circle cx="344.80" cy="1760.00" r="4.50" fill="#ece4ee" />
<circle cx="272.70" cy="1799.20" r="4.50" fill="#ece4ee" />
<line x1="319.60" y1="1804.20" x2="339.60" y2="1804.20" stroke="#ece4ee" stroke-width="3.2" />
<line x1="329.60" y1="1794.20" x2="329.60" y2="1814.20" stroke="#ece4ee" stroke-width="3.2" />
<text x="80.5" y="1318.0" font-size="29" text-anchor="start" fill="#000" >Final</text>
<text x="232.0" y="1318.0" font-size="29" text-anchor="middle" fill="#7a1a7c" font-weight="bold" >A</text>
<text x="498.0" y="1318.0" font-size="29" text-anchor="middle" fill="#000" font-weight="bold" >Reduced</text>
<text x="498.0" y="1351.5" font-size="29" text-anchor="middle" fill="#000" font-weight="bold" >State</text>
<text x="502.5" y="1387.0" font-size="29" text-anchor="middle" fill="#000" font-weight="bold" >II</text>
<text x="365.0" y="1867.5" font-size="29" text-anchor="middle" fill="#7a1a7c" font-weight="bold" >B</text>
</g>
<g id="panel-ef">
<text x="616.0" y="1317.0" font-size="31" text-anchor="start" fill="#000" font-weight="bold" >e</text>
<text x="973.0" y="1316.0" font-size="29" text-anchor="middle" fill="#000" >Structure of the high energy state</text>
<text x="973.0" y="1351.0" font-size="29" text-anchor="middle" fill="#000" >in Path R3 / Position (32, 10)</text>
<text x="809.5" y="1864.0" font-size="29" text-anchor="middle" fill="#000" >Top-Down</text>
<text x="1136.0" y="1864.0" font-size="29" text-anchor="middle" fill="#000" >Side-On</text>
<text x="1289.0" y="1316.0" font-size="31" text-anchor="start" fill="#000" font-weight="bold" >f</text>
<text x="1616.0" y="1316.0" font-size="29" text-anchor="middle" fill="#e01c1c" >Structure of the high energy state</text>
<text x="1615.0" y="1351.0" font-size="29" text-anchor="middle" fill="#e01c1c" >in Path R4 / Position (2, 28)</text>
<text x="1460.0" y="1864.0" font-size="29" text-anchor="middle" fill="#000" >Top-Down</text>
<text x="1787.5" y="1864.0" font-size="29" text-anchor="middle" fill="#000" >Side-On</text>
<g transform="translate(660,1380) scale(0.24018)">
<g opacity="0.85">
<circle cx="330" cy="200" r="130" fill="url(#bP)"/>
<circle cx="480" cy="150" r="110" fill="url(#bP)"/>
<circle cx="620" cy="150" r="100" fill="url(#bP)"/>
<circle cx="300" cy="400" r="150" fill="url(#bP)"/>
<circle cx="480" cy="380" r="150" fill="url(#bP)"/>
<circle cx="650" cy="380" r="150" fill="url(#bP)"/>
<circle cx="420" cy="620" r="140" fill="url(#bP)"/>
<circle cx="600" cy="600" r="150" fill="url(#bP)"/>
<circle cx="740" cy="600" r="100" fill="url(#bP)"/>
<circle cx="760" cy="420" r="90" fill="url(#bP)"/>
<circle cx="740" cy="260" r="90" fill="url(#bP)"/>
<circle cx="860" cy="390" r="85" fill="url(#bP)"/>
<circle cx="960" cy="400" r="85" fill="url(#bP)"/>
</g>
<g opacity="0.85">
<circle cx="1130" cy="560" r="100" fill="url(#bD)"/>
<circle cx="1150" cy="700" r="110" fill="url(#bD)"/>
<circle cx="1160" cy="850" r="110" fill="url(#bD)"/>
<circle cx="1040" cy="890" r="120" fill="url(#bD)"/>
<circle cx="960" cy="960" r="110" fill="url(#bD)"/>
<circle cx="1100" cy="980" r="100" fill="url(#bD)"/>
</g>
<g opacity="0.85">
<circle cx="650" cy="1150" r="130" fill="url(#bP)"/>
<circle cx="850" cy="1150" r="130" fill="url(#bP)"/>
<circle cx="1050" cy="1150" r="120" fill="url(#bP)"/>
<circle cx="1200" cy="1260" r="100" fill="url(#bP)"/>
<circle cx="520" cy="1320" r="130" fill="url(#bP)"/>
<circle cx="700" cy="1300" r="150" fill="url(#bP)"/>
<circle cx="900" cy="1300" r="150" fill="url(#bP)"/>
<circle cx="1100" cy="1350" r="140" fill="url(#bP)"/>
<circle cx="480" cy="1500" r="130" fill="url(#bP)"/>
<circle cx="680" cy="1500" r="150" fill="url(#bP)"/>
<circle cx="880" cy="1500" r="150" fill="url(#bP)"/>
<circle cx="1080" cy="1480" r="130" fill="url(#bP)"/>
<circle cx="600" cy="1640" r="130" fill="url(#bP)"/>
<circle cx="790" cy="1650" r="120" fill="url(#bP)"/>
<circle cx="960" cy="1600" r="110" fill="url(#bP)"/>
</g>
<g opacity="0.85">
<circle cx="150" cy="520" r="95" fill="url(#bB)"/>
<circle cx="140" cy="690" r="95" fill="url(#bB)"/>
<circle cx="230" cy="720" r="85" fill="url(#bB)"/>
<circle cx="240" cy="560" r="70" fill="url(#bB)"/>
</g>
<g opacity="0.9">
<circle cx="1120" cy="420" r="85" fill="url(#bW)"/>
<circle cx="830" cy="1060" r="90" fill="url(#bW)"/>
<circle cx="120" cy="860" r="80" fill="url(#bW)"/>
<circle cx="260" cy="880" r="95" fill="url(#bW)"/>
<circle cx="180" cy="990" r="85" fill="url(#bW)"/>
<circle cx="250" cy="1010" r="95" fill="url(#bW)"/>
<circle cx="160" cy="1150" r="100" fill="url(#bW)"/>
<circle cx="290" cy="1130" r="75" fill="url(#bW)"/>
<circle cx="260" cy="1500" r="90" fill="url(#bW)"/>
<circle cx="250" cy="1590" r="90" fill="url(#bW)"/>
<circle cx="690" cy="1740" r="90" fill="url(#bW)"/>
</g>
<g opacity="0.85">
<circle cx="140" cy="1340" r="90" fill="#e070e6"/>
<circle cx="280" cy="1320" r="95" fill="#e070e6"/>
<circle cx="200" cy="1430" r="80" fill="#e070e6"/>
</g>
<g opacity="0.8">
<circle cx="420" cy="1510" r="100" fill="#70e070"/>
<circle cx="450" cy="1650" r="120" fill="#70e070"/>
<circle cx="350" cy="1640" r="80" fill="#70e070"/>
<circle cx="540" cy="1700" r="80" fill="#70e070"/>
</g>
<path d="M310 200 L650 172 L665 300 L700 450 L720 610 L410 680 L380 540 M320 200 L330 330 M430 430 L392 495 L318 495 L280 430 L317 365 L392 365 Z M752 390 L716 452 L644 452 L608 390 L644 328 L716 328 Z M440 390 L1030 430" fill="none" stroke="#8a1498" stroke-width="22" stroke-linejoin="round" stroke-linecap="round" opacity="1.0"/>
<path d="M1100 510 L1150 700 L1170 820 L1080 900 M1052 991 L990 1027 L928 991 L928 919 L990 883 L1052 919 Z M930 1010 L880 1060" fill="none" stroke="#333" stroke-width="22" stroke-linejoin="round" stroke-linecap="round" opacity="1.0"/>
<path d="M756 1214 L702 1259 L636 1235 L624 1166 L678 1121 L744 1145 Z M921 1255 L860 1290 L799 1255 L799 1185 L860 1150 L921 1185 Z M1149 1252 L1104 1306 L1035 1294 L1011 1228 L1056 1174 L1125 1186 Z M621 1375 L560 1410 L499 1375 L499 1305 L560 1270 L621 1305 Z M735 1560 L698 1625 L622 1625 L585 1560 L622 1495 L698 1495 Z M1023 1520 L966 1560 L903 1530 L897 1460 L954 1420 L1017 1450 Z M1172 1410 L1120 1440 L1068 1410 L1068 1350 L1120 1320 L1172 1350 Z M520 1420 L600 1550 M760 1150 L830 1340 L760 1600 L700 1720 M900 1560 L760 1600 M1180 1240 L1100 1380" fill="none" stroke="#8a1498" stroke-width="22" stroke-linejoin="round" stroke-linecap="round" opacity="1.0"/>
<path d="M180 520 L230 560 L215 700 L180 790 M215 600 L270 540 M200 650 L250 610" fill="none" stroke="#1414c8" stroke-width="20" stroke-linejoin="round" stroke-linecap="round" opacity="1.0"/>
<path d="M253 1412 L205 1440 L157 1412 L157 1358 L205 1330 L253 1358 Z" fill="none" stroke="#dd22dd" stroke-width="20" stroke-linejoin="round" stroke-linecap="round" opacity="1.0"/>
<path d="M420 1420 L440 1540 L520 1600 L580 1680 M555 1620 L528 1668 L472 1668 L445 1620 L472 1572 L528 1572 Z" fill="none" stroke="#22bb22" stroke-width="18" stroke-linejoin="round" stroke-linecap="round" opacity="1.0"/>
<path d="M180 790 L230 900 L210 1050 L240 1150 L220 1300 L260 1500 L330 1550" fill="none" stroke="#f4f4f4" stroke-width="10" stroke-linejoin="round" stroke-linecap="round" opacity="0.9"/>
</g>
<g transform="translate(1020,1590) scale(0.12853)">
<circle cx="300" cy="480" r="198" fill="url(#sPf)"/>
<circle cx="480" cy="420" r="198" fill="url(#sPf)"/>
<circle cx="300" cy="750" r="198" fill="url(#sPf)"/>
<circle cx="450" cy="800" r="220" fill="url(#sPf)"/>
<circle cx="560" cy="600" r="176" fill="url(#sPf)"/>
<circle cx="1320" cy="760" r="121" fill="url(#sP)"/>
<circle cx="1600" cy="1000" r="154" fill="url(#sP)"/>
<circle cx="1600" cy="1200" r="165" fill="url(#sP)"/>
<circle cx="1400" cy="1050" r="187" fill="url(#sP)"/>
<circle cx="1450" cy="1330" r="187" fill="url(#sP)"/>
</g>
<g transform="translate(1020,1380) scale(0.12853)">
<circle cx="700" cy="620" r="143" fill="url(#sP)"/>
<circle cx="1220" cy="620" r="132" fill="url(#sP)"/>
<circle cx="330" cy="280" r="143" fill="url(#sP)"/>
<circle cx="560" cy="240" r="165" fill="url(#sP)"/>
<circle cx="820" cy="230" r="176" fill="url(#sP)"/>
<circle cx="1180" cy="250" r="176" fill="url(#sP)"/>
<circle cx="1370" cy="290" r="176" fill="url(#sP)"/>
<circle cx="1660" cy="410" r="198" fill="url(#sP)"/>
<circle cx="340" cy="550" r="220" fill="url(#sP)"/>
<circle cx="310" cy="730" r="220" fill="url(#sP)"/>
<circle cx="280" cy="1100" r="198" fill="url(#sP)"/>
<circle cx="460" cy="1150" r="187" fill="url(#sP)"/>
<circle cx="1620" cy="700" r="231" fill="url(#sP)"/>
<circle cx="1610" cy="880" r="231" fill="url(#sP)"/>
<circle cx="1580" cy="1180" r="209" fill="url(#sP)"/>
<circle cx="1350" cy="1250" r="198" fill="url(#sP)"/>
<circle cx="300" cy="930" r="198" fill="url(#sP)"/>
<circle cx="1600" cy="1050" r="198" fill="url(#sP)"/>
<circle cx="700" cy="1500" r="176" fill="url(#sW)"/>
<circle cx="960" cy="640" r="231" fill="url(#sW)"/>
<circle cx="560" cy="870" r="209" fill="url(#sB)"/>
<circle cx="1290" cy="860" r="220" fill="url(#sB)"/>
<circle cx="800" cy="940" r="187" fill="url(#sB)"/>
<circle cx="1130" cy="940" r="187" fill="url(#sB)"/>
<circle cx="960" cy="960" r="143" fill="url(#sB)"/>
<circle cx="790" cy="1130" r="220" fill="url(#sB)"/>
<circle cx="1130" cy="1110" r="220" fill="url(#sB)"/>
<circle cx="970" cy="1200" r="198" fill="url(#sB)"/>
<circle cx="960" cy="1470" r="231" fill="url(#sW)"/>
</g>
<g transform="translate(1020,1590) scale(0.12853)">
<circle cx="720" cy="120" r="165" fill="url(#sW)"/>
<circle cx="840" cy="180" r="231" fill="url(#sW)"/>
<circle cx="1100" cy="150" r="187" fill="url(#sW)"/>
<circle cx="750" cy="420" r="176" fill="url(#sW)"/>
<circle cx="1040" cy="470" r="231" fill="url(#sW)"/>
<circle cx="750" cy="1780" r="143" fill="url(#sW)"/>
<circle cx="540" cy="1000" r="187" fill="url(#sG)"/>
<circle cx="330" cy="1290" r="198" fill="url(#sG)"/>
<circle cx="560" cy="1250" r="209" fill="url(#sG)"/>
<circle cx="700" cy="1500" r="198" fill="url(#sG)"/>
<circle cx="650" cy="1700" r="187" fill="url(#sG)"/>
<circle cx="900" cy="1650" r="198" fill="url(#sG)"/>
<circle cx="1100" cy="1550" r="176" fill="url(#sG)"/>
<circle cx="950" cy="1450" r="143" fill="url(#sG)"/>
<circle cx="1100" cy="700" r="176" fill="url(#sM)"/>
<circle cx="880" cy="780" r="242" fill="url(#sM)"/>
<circle cx="1150" cy="820" r="198" fill="url(#sM)"/>
<circle cx="880" cy="1000" r="220" fill="url(#sM)"/>
<circle cx="1130" cy="1000" r="198" fill="url(#sM)"/>
<circle cx="1100" cy="1260" r="198" fill="url(#sW)"/>
<circle cx="850" cy="1320" r="165" fill="url(#sR)"/>
</g>
<g transform="translate(1320,1380) scale(0.2455)">
<g opacity="0.85">
<circle cx="440" cy="150" r="120" fill="url(#bP)"/>
<circle cx="620" cy="130" r="110" fill="url(#bP)"/>
<circle cx="800" cy="160" r="110" fill="url(#bP)"/>
<circle cx="380" cy="330" r="110" fill="url(#bP)"/>
<circle cx="560" cy="330" r="130" fill="url(#bP)"/>
<circle cx="760" cy="330" r="130" fill="url(#bP)"/>
<circle cx="900" cy="320" r="90" fill="url(#bP)"/>
<circle cx="480" cy="520" r="120" fill="url(#bP)"/>
<circle cx="680" cy="520" r="120" fill="url(#bP)"/>
<circle cx="860" cy="480" r="110" fill="url(#bP)"/>
</g>
<g opacity="0.85">
<circle cx="940" cy="520" r="90" fill="url(#bD)"/>
<circle cx="930" cy="700" r="110" fill="url(#bD)"/>
<circle cx="1030" cy="770" r="120" fill="url(#bD)"/>
<circle cx="1110" cy="820" r="90" fill="url(#bD)"/>
</g>
<g opacity="0.85">
<circle cx="1000" cy="960" r="90" fill="url(#bP)"/>
<circle cx="960" cy="1120" r="110" fill="url(#bP)"/>
<circle cx="880" cy="1250" r="120" fill="url(#bP)"/>
<circle cx="760" cy="1200" r="130" fill="url(#bP)"/>
<circle cx="620" cy="1160" r="120" fill="url(#bP)"/>
<circle cx="480" cy="1230" r="120" fill="url(#bP)"/>
<circle cx="380" cy="1320" r="110" fill="url(#bP)"/>
<circle cx="540" cy="1400" r="140" fill="url(#bP)"/>
<circle cx="720" cy="1400" r="130" fill="url(#bP)"/>
<circle cx="900" cy="1380" r="110" fill="url(#bP)"/>
<circle cx="420" cy="1520" r="120" fill="url(#bP)"/>
<circle cx="600" cy="1570" r="140" fill="url(#bP)"/>
<circle cx="760" cy="1560" r="110" fill="url(#bP)"/>
<circle cx="460" cy="1680" r="110" fill="url(#bP)"/>
<circle cx="620" cy="1720" r="110" fill="url(#bP)"/>
<circle cx="380" cy="1620" r="90" fill="url(#bP)"/>
</g>
<g opacity="0.9">
<circle cx="310" cy="350" r="90" fill="url(#bW)"/>
<circle cx="250" cy="440" r="90" fill="url(#bW)"/>
<circle cx="330" cy="440" r="70" fill="url(#bW)"/>
</g>
<g opacity="0.85">
<circle cx="130" cy="590" r="95" fill="url(#bB)"/>
<circle cx="320" cy="580" r="95" fill="url(#bB)"/>
<circle cx="220" cy="620" r="90" fill="url(#bB)"/>
<circle cx="160" cy="720" r="80" fill="url(#bB)"/>
<circle cx="290" cy="740" r="90" fill="url(#bB)"/>
</g>
<g opacity="0.9">
<circle cx="200" cy="880" r="90" fill="url(#bW)"/>
<circle cx="330" cy="880" r="100" fill="url(#bW)"/>
<circle cx="280" cy="1000" r="100" fill="url(#bW)"/>
<circle cx="340" cy="1080" r="90" fill="url(#bW)"/>
<circle cx="290" cy="1170" r="100" fill="url(#bW)"/>
<circle cx="1080" cy="930" r="95" fill="url(#bW)"/>
</g>
<g opacity="0.85">
<circle cx="420" cy="1250" r="70" fill="#e070e6"/>
</g>
<g opacity="0.85">
<circle cx="400" cy="1440" r="70" fill="#70e070"/>
<circle cx="440" cy="1530" r="60" fill="#70e070"/>
</g>
<g opacity="0.8">
<circle cx="500" cy="1380" r="60" fill="#f0f0f0"/>
</g>
<path d="M380 290 L430 240 L440 150 L700 150 L830 180 L830 290 L780 330 L800 400 L780 450 L820 540 L520 520 L420 440 L420 330 L800 330 M430 240 L500 300 L500 330" fill="none" stroke="#8a1498" stroke-width="22" stroke-linejoin="round" stroke-linecap="round" opacity="1.0"/>
<path d="M820 540 L880 560 L900 650 L970 720 M1079 802 L1034 856 L965 844 L941 778 L986 724 L1055 736 Z M1050 860 L1060 930" fill="none" stroke="#333" stroke-width="22" stroke-linejoin="round" stroke-linecap="round" opacity="1.0"/>
<path d="M1040 1000 L960 1150 L900 1250 M936 1304 L882 1349 L816 1325 L804 1256 L858 1211 L924 1235 Z M715 1288 L650 1325 L585 1288 L585 1212 L650 1175 L715 1212 Z M620 1190 L590 1242 L530 1242 L500 1190 L530 1138 L590 1138 Z M775 1550 L738 1615 L662 1615 L625 1550 L662 1485 L738 1485 Z M634 1693 L586 1750 L512 1737 L486 1667 L534 1610 L608 1623 Z M502 1620 L450 1650 L398 1620 L398 1560 L450 1530 L502 1560 Z M820 1330 L760 1450 L730 1550 M620 1310 L600 1400" fill="none" stroke="#8a1498" stroke-width="22" stroke-linejoin="round" stroke-linecap="round" opacity="1.0"/>
<path d="M140 570 L230 640 L240 780 M230 640 L300 600 M200 690 L240 570 L230 560" fill="none" stroke="#1010b8" stroke-width="22" stroke-linejoin="round" stroke-linecap="round" opacity="1.0"/>
<path d="M478 1308 L430 1335 L382 1308 L382 1252 L430 1225 L478 1252 Z" fill="none" stroke="#dd22dd" stroke-width="20" stroke-linejoin="round" stroke-linecap="round" opacity="1.0"/>
<path d="M420 1450 L470 1510 L560 1430 L650 1380 M650 1400 L625 1443 L575 1443 L550 1400 L575 1357 L625 1357 Z" fill="none" stroke="#226622" stroke-width="18" stroke-linejoin="round" stroke-linecap="round" opacity="1.0"/>
<path d="M240 780 L290 870 L270 1000 L330 1100 L320 1190 L360 1230" fill="none" stroke="#f4f4f4" stroke-width="10" stroke-linejoin="round" stroke-linecap="round" opacity="0.9"/>
</g>
<g transform="translate(1670,1600) scale(0.13084)">
<circle cx="1480" cy="130" r="165" fill="url(#sP)"/>
<circle cx="1420" cy="260" r="154" fill="url(#sP)"/>
<circle cx="600" cy="580" r="154" fill="url(#sP)"/>
</g>
<g transform="translate(1670,1380) scale(0.12281)">
<circle cx="800" cy="600" r="187" fill="url(#sP)"/>
<circle cx="1150" cy="580" r="198" fill="url(#sP)"/>
<circle cx="600" cy="930" r="165" fill="url(#sP)"/>
<circle cx="1350" cy="900" r="143" fill="url(#sP)"/>
<circle cx="320" cy="240" r="176" fill="url(#sP)"/>
<circle cx="560" cy="200" r="165" fill="url(#sP)"/>
<circle cx="720" cy="190" r="176" fill="url(#sP)"/>
<circle cx="880" cy="190" r="165" fill="url(#sP)"/>
<circle cx="1080" cy="190" r="165" fill="url(#sP)"/>
<circle cx="1250" cy="200" r="176" fill="url(#sP)"/>
<circle cx="1530" cy="250" r="176" fill="url(#sP)"/>
<circle cx="330" cy="480" r="198" fill="url(#sP)"/>
<circle cx="330" cy="650" r="198" fill="url(#sP)"/>
<circle cx="330" cy="930" r="187" fill="url(#sP)"/>
<circle cx="1580" cy="480" r="198" fill="url(#sP)"/>
<circle cx="1590" cy="650" r="198" fill="url(#sP)"/>
<circle cx="1560" cy="930" r="187" fill="url(#sP)"/>
<circle cx="990" cy="620" r="209" fill="url(#sW)"/>
<circle cx="990" cy="840" r="187" fill="url(#sW)"/>
<circle cx="1400" cy="1520" r="198" fill="url(#sD)"/>
<circle cx="1600" cy="1620" r="165" fill="url(#sW)"/>
<circle cx="900" cy="1830" r="176" fill="url(#sW)"/>
<circle cx="1150" cy="1800" r="143" fill="url(#sW)"/>
<circle cx="680" cy="1050" r="220" fill="url(#sB)"/>
<circle cx="1340" cy="1040" r="209" fill="url(#sB)"/>
<circle cx="880" cy="1120" r="176" fill="url(#sB)"/>
<circle cx="1160" cy="1120" r="176" fill="url(#sB)"/>
<circle cx="1020" cy="1050" r="165" fill="url(#sB)"/>
<circle cx="870" cy="1330" r="231" fill="url(#sB)"/>
<circle cx="1160" cy="1330" r="231" fill="url(#sB)"/>
<circle cx="1000" cy="1440" r="176" fill="url(#sB)"/>
<circle cx="990" cy="1640" r="220" fill="url(#sW)"/>
</g>
<g transform="translate(1670,1600) scale(0.13084)">
<circle cx="1270" cy="440" r="176" fill="url(#sP)"/>
<circle cx="1380" cy="560" r="176" fill="url(#sP)"/>
<circle cx="1500" cy="760" r="176" fill="url(#sP)"/>
<circle cx="1360" cy="970" r="187" fill="url(#sP)"/>
<circle cx="1250" cy="1100" r="176" fill="url(#sP)"/>
<circle cx="460" cy="760" r="187" fill="url(#sP)"/>
<circle cx="330" cy="880" r="187" fill="url(#sP)"/>
<circle cx="200" cy="1100" r="187" fill="url(#sP)"/>
<circle cx="400" cy="1300" r="198" fill="url(#sP)"/>
<circle cx="510" cy="1410" r="187" fill="url(#sP)"/>
<circle cx="680" cy="1600" r="176" fill="url(#sP)"/>
<circle cx="900" cy="1450" r="187" fill="url(#sP)"/>
<circle cx="1030" cy="1330" r="187" fill="url(#sP)"/>
<circle cx="1150" cy="1200" r="165" fill="url(#sP)"/>
<circle cx="820" cy="1300" r="132" fill="url(#sP)"/>
<circle cx="820" cy="150" r="187" fill="url(#sW)"/>
<circle cx="1080" cy="80" r="176" fill="url(#sW)"/>
<circle cx="800" cy="320" r="143" fill="url(#sW)"/>
<circle cx="960" cy="390" r="198" fill="url(#sW)"/>
<circle cx="960" cy="700" r="143" fill="url(#sM)"/>
<circle cx="780" cy="640" r="176" fill="url(#sM)"/>
<circle cx="1130" cy="600" r="165" fill="url(#sM)"/>
<circle cx="870" cy="780" r="154" fill="url(#sM)"/>
<circle cx="1080" cy="780" r="165" fill="url(#sM)"/>
<circle cx="1100" cy="870" r="176" fill="url(#sW)"/>
<circle cx="930" cy="960" r="99" fill="url(#sR)"/>
<circle cx="600" cy="1130" r="121" fill="url(#sG)"/>
<circle cx="880" cy="1120" r="132" fill="url(#sG)"/>
<circle cx="700" cy="1200" r="198" fill="url(#sG)"/>
<circle cx="700" cy="1000" r="220" fill="url(#sG)"/>
</g>
</g>
</g>
</svg>
</body></html>
